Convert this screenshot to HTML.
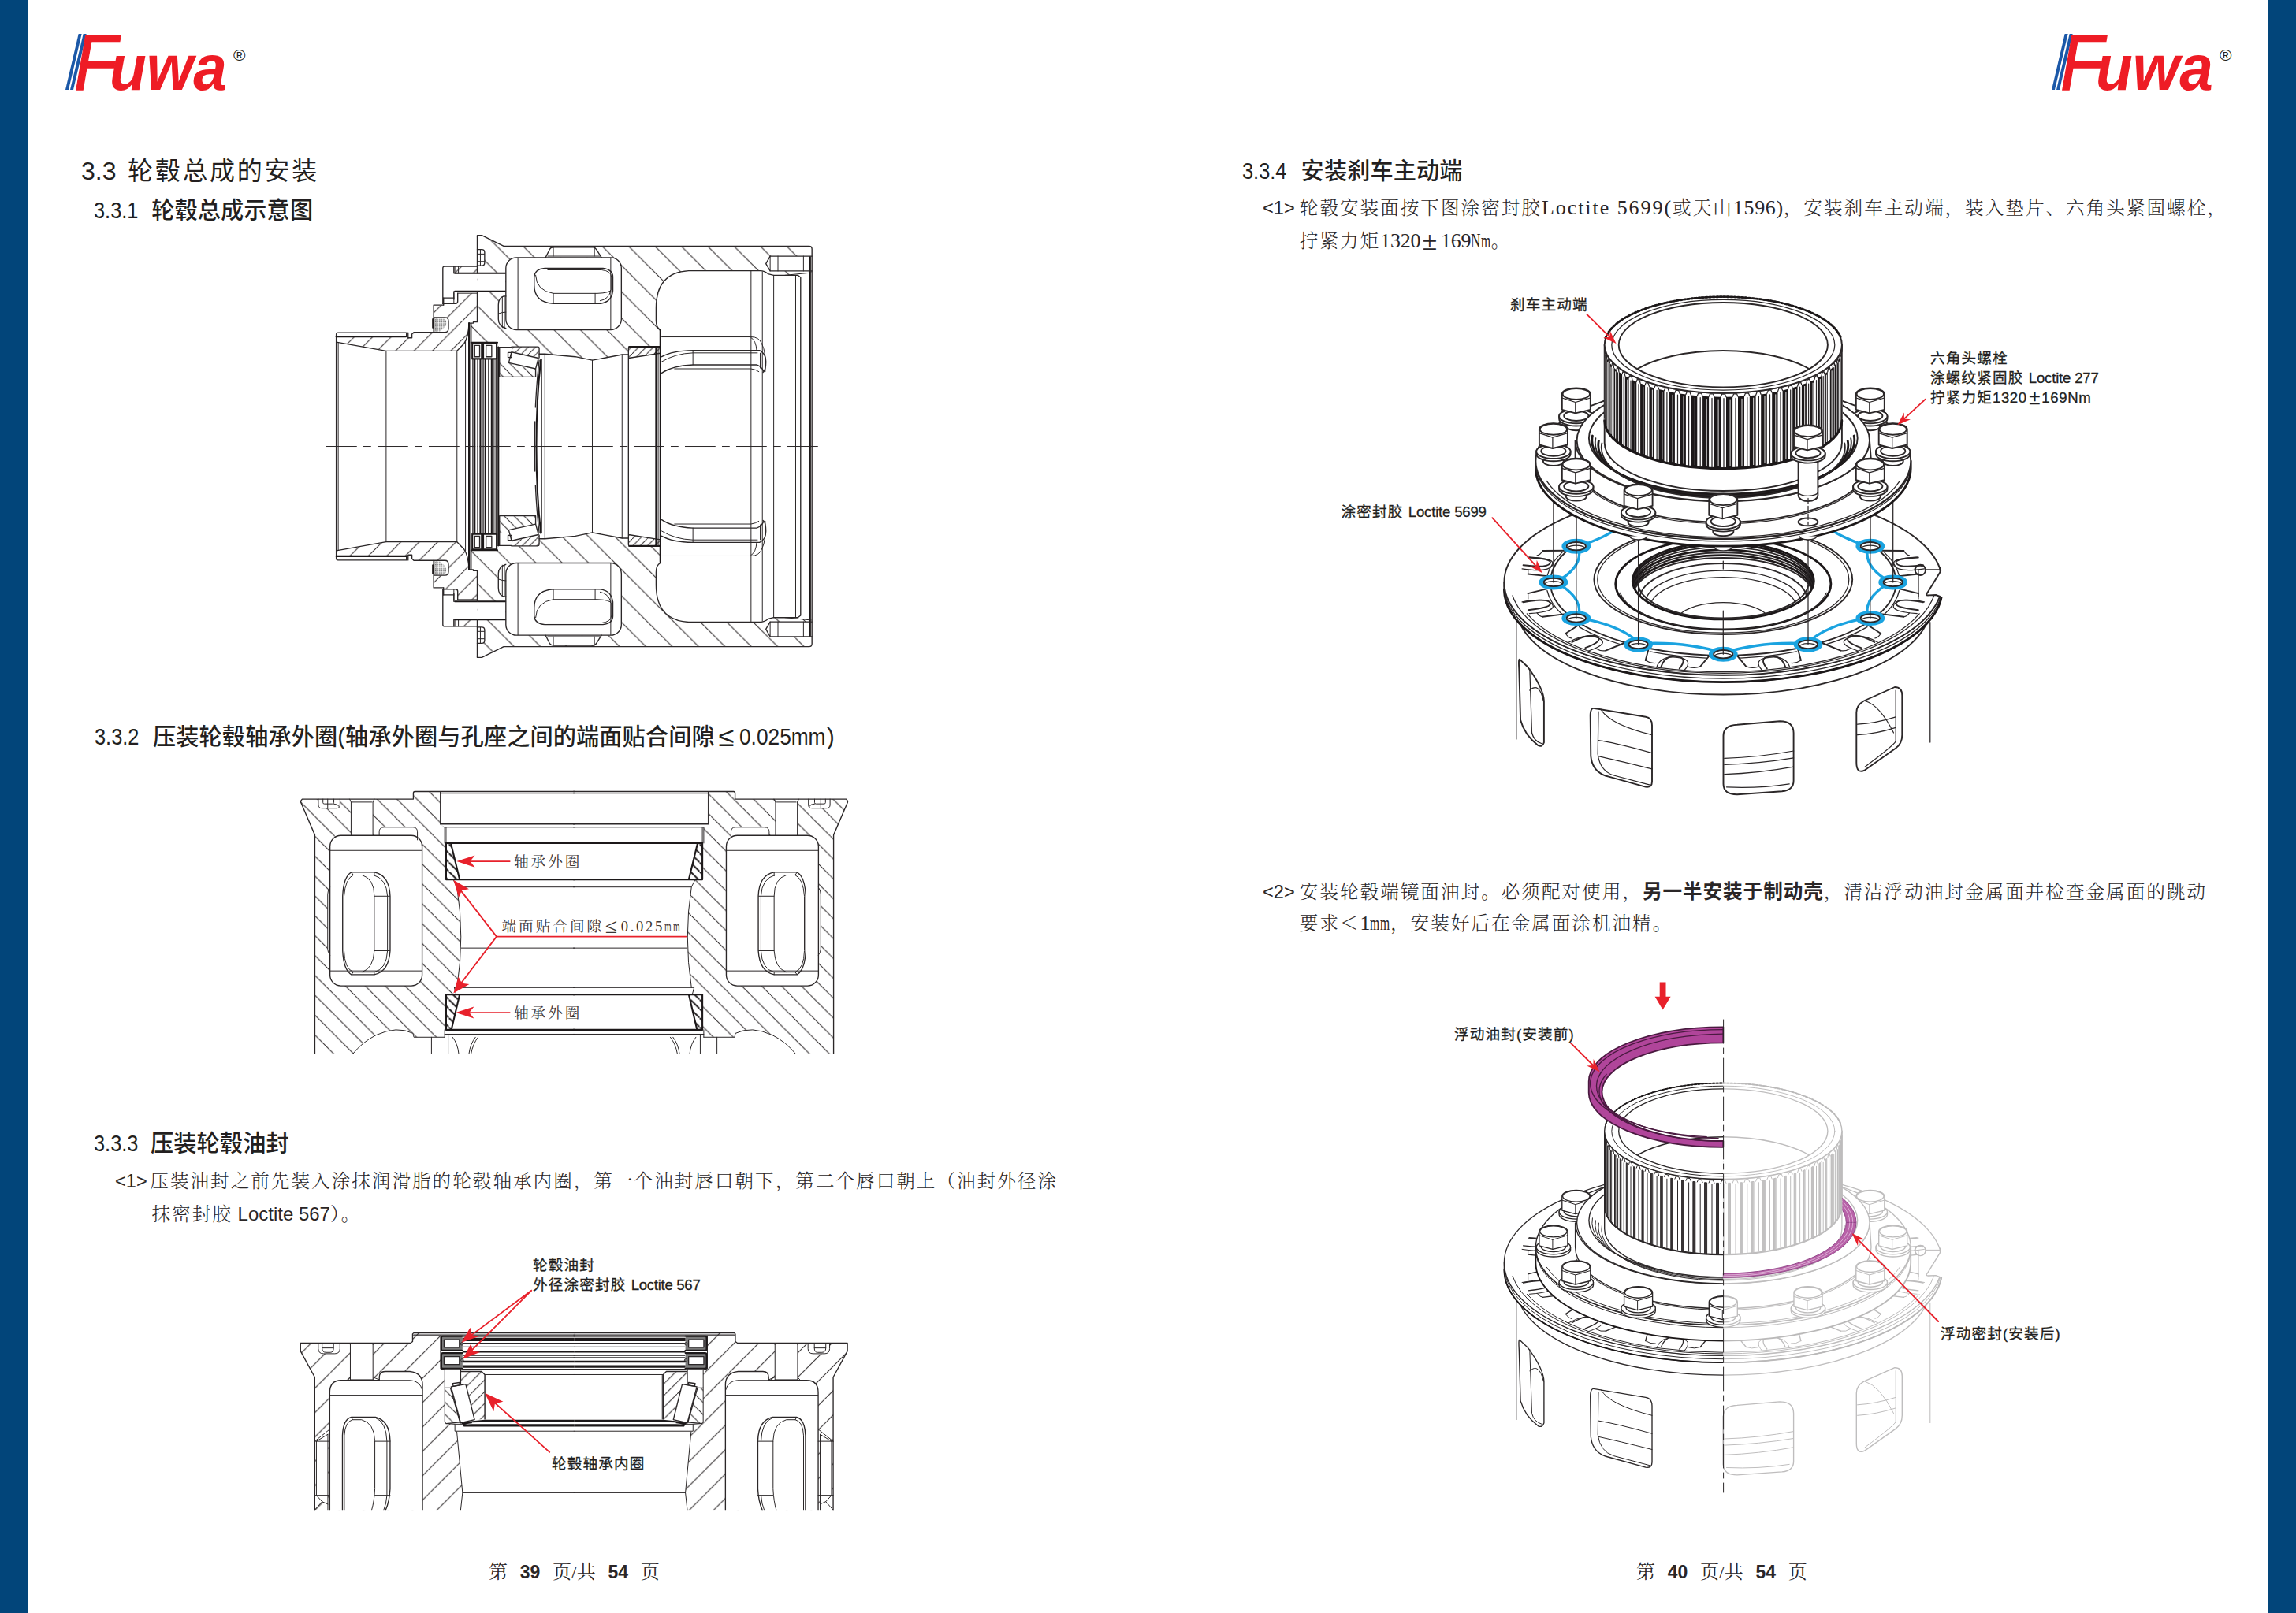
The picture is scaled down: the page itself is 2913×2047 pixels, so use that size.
<!DOCTYPE html>
<html lang="zh-CN">
<head>
<meta charset="utf-8">
<title>Fuwa 3.3 轮毂总成的安装</title>
<style>
html,body{margin:0;padding:0;}
body{width:2913px;height:2047px;position:relative;overflow:hidden;background:#fff;
  font-family:"Liberation Sans","Noto Sans CJK SC",sans-serif;color:#231f20;}
.bar{position:absolute;top:0;width:35px;height:2047px;background:#02457a;}
.t{position:absolute;white-space:nowrap;line-height:1;}
.sans{font-family:"Liberation Sans","Noto Sans CJK SC",sans-serif;}
.serif{font-family:"Liberation Serif","Noto Serif CJK SC",serif;}
.h1,.h2{margin-top:3px;}.body{margin-top:2.2px;}.foot,.lb,.dl{margin-top:2px;}
.fw{display:inline-block;width:1em;text-align:center;letter-spacing:0;}
.h1{font-size:32px;letter-spacing:2.7px;font-weight:400;}
.h2{font-size:29.2px;font-weight:500;letter-spacing:0.1px;}
.n{display:inline-block;letter-spacing:0;transform:scaleX(.87);transform-origin:0 50%;}
.lat{font-family:"Liberation Serif",serif;font-size:26px;font-weight:400;line-height:0;}
.sq{display:inline-block;width:12.8px;letter-spacing:0;transform:scaleX(.6);transform-origin:0 50%;}
.sq2{display:inline-block;width:11.2px;letter-spacing:0;transform:scaleX(.6);transform-origin:0 50%;}
.foot{word-spacing:9.7px;}
.bd{font-weight:700;font-size:24.6px;letter-spacing:.95px;}
.body{font-size:23.6px;letter-spacing:2.0px;font-weight:300;color:#2a2627;}
.num{font-family:"Liberation Sans","Noto Sans CJK SC",sans-serif;font-weight:400;letter-spacing:0;}
.lbl{font-family:"Liberation Sans","Noto Sans CJK SC",sans-serif;font-size:18.5px;font-weight:500;fill:#231f20;}
.logo{position:absolute;width:240px;height:80px;}
.logo span{position:absolute;font-family:"Liberation Sans",sans-serif;line-height:1;white-space:nowrap;}
.logo .f{left:10.5px;top:-12.5px;font-weight:400;-webkit-text-stroke:1.3px #ee1c25;font-style:italic;font-size:99.5px;color:#ee1c25;transform:scaleX(0.905);transform-origin:0 0;}
.logo .uwa{left:55.5px;top:4.1px;font-weight:700;font-style:italic;font-size:81px;color:#ee1c25;transform:scaleX(0.945);transform-origin:0 0;}
.logo .reg{left:213px;top:16.5px;font-size:21px;color:#231f20;}
.logo i{position:absolute;top:1px;height:71px;width:3.8px;background:#1b58a8;transform:skewX(-13.2deg);transform-origin:0 100%;}
svg{position:absolute;overflow:visible;}
svg .k,svg .m,svg .b,svg .r{fill:none;vector-effect:non-scaling-stroke;stroke-linejoin:round;stroke-linecap:round;}
svg .k{stroke:#2b2728;stroke-width:1;}
svg .m{stroke:#2b2728;stroke-width:1.35;}
svg .b{stroke:#1c1819;stroke-width:2.1;}
svg .r{stroke:#e8212b;stroke-width:1.8;}
svg .w{fill:#fff;}
svg text{font-family:"Liberation Sans","Noto Sans CJK SC",sans-serif;}
.dl{font-size:18.6px;letter-spacing:3px;font-weight:400;color:#3a3637;}
.lb{font-size:18.6px;letter-spacing:1.15px;font-weight:400;-webkit-text-stroke:.3px #231f20;color:#231f20;}
.foot{font-size:24px;color:#2a2627;}
.foot b{font-family:"Liberation Sans","Noto Sans CJK SC",sans-serif;font-weight:700;font-size:23px;}
</style>
</head>
<body>
<div class="bar" style="left:0"></div>
<div class="bar" style="left:2878px"></div>

<!-- logos -->
<div class="logo" style="left:83px;top:42px"><i style="left:0.3px"></i><i style="left:6.2px"></i><span class="f">F</span><span class="uwa">uwa</span><span class="reg">®</span></div>
<div class="logo" style="left:2603px;top:42px"><i style="left:0.3px"></i><i style="left:6.2px"></i><span class="f">F</span><span class="uwa">uwa</span><span class="reg">®</span></div>

<!-- left page text -->
<div class="t sans h1" style="left:103px;top:198.3px"><span class="n" style="width:59px;transform:scaleX(1)">3.3</span>轮毂总成的安装</div>
<div class="t sans h2" style="left:119px;top:250.4px"><span class="n" style="width:73.2px">3.3.1</span>轮毂总成示意图</div>
<div class="t sans h2" style="left:120px;top:918px"><span class="n" style="width:74px">3.3.2</span>压装轮毂轴承外圈(轴承外圈与孔座之间的端面贴合间隙<span class="fw" style="transform:scale(1.25,1.2)">≤</span><span class="n" style="width:111px;margin-left:2px;transform:scaleX(.9)">0.025mm</span>)</div>
<div class="t sans h2" style="left:118.5px;top:1434px"><span class="n" style="width:72.5px">3.3.3</span>压装轮毂油封</div>
<div class="t serif body" style="left:146px;top:1486px"><span class="n num" style="width:44.3px;transform:none">&lt;1&gt;</span>压装油封之前先装入涂抹润滑脂的轮毂轴承内圈，第一个油封唇口朝下，第二个唇口朝上（油封外径涂</div>
<div class="t serif body" style="left:192.5px;top:1527px">抹密封胶<span class="num" style="font-size:24px"> Loctite 567</span>）。</div>
<div class="t serif foot" style="left:620px;top:1980.5px">第 <b>39</b> 页/共 <b>54</b> 页</div>

<!-- right page text -->
<div class="t sans h2" style="left:1576px;top:200px"><span class="n" style="width:74.6px">3.3.4</span>安装刹车主动端</div>
<div class="t serif body" style="left:1602px;top:251px"><span class="n num" style="width:46.8px;transform:none">&lt;1&gt;</span>轮毂安装面按下图涂密封胶<span class="lat" style="letter-spacing:1.95px">Loctite 5699(</span>或天山<span class="lat" style="letter-spacing:.65px">1596)</span>，安装刹车主动端，装入垫片、六角头紧固螺栓，</div>
<div class="t serif body" style="left:1648.8px;top:293px">拧紧力矩<span class="lat" style="letter-spacing:-.22px">1320</span><span class="fw" style="margin-right:2px;transform:scale(1.45)">±</span><span class="lat" style="letter-spacing:-.22px">169</span><span class="lat sq" style="transform:scaleX(.66)">N</span><span class="lat sq">m</span>。</div>
<div class="t serif body" style="left:1602px;top:1117.5px"><span class="n num" style="width:46.8px;transform:none">&lt;2&gt;</span>安装轮毂端镜面油封。必须配对使用，<b class="sans bd">另一半安装于制动壳</b>，清洁浮动油封金属面并检查金属面的跳动</div>
<div class="t serif body" style="left:1648.8px;top:1159px">要求＜<span class="lat" style="letter-spacing:-.22px">1</span><span class="lat sq">m</span><span class="lat sq">m</span>，安装好后在金属面涂机油精。</div>
<div class="t serif foot" style="left:2076px;top:1980.5px">第 <b>40</b> 页/共 <b>54</b> 页</div>

<svg style="left:0;top:0" width="2913" height="2047" viewBox="0 0 2913 2047">
<defs>
<pattern id="hA" patternUnits="userSpaceOnUse" width="130" height="130"><path d="M-10,140L140,-10" stroke="#2b2728" stroke-width="5.8" fill="none"/></pattern>
<pattern id="hAm" patternUnits="userSpaceOnUse" width="130" height="130"><path d="M-10,-10L140,140" stroke="#2b2728" stroke-width="5.8" fill="none"/></pattern>
<pattern id="hB" patternUnits="userSpaceOnUse" width="186" height="186" patternTransform="translate(40,0)"><path d="M-10,-10L196,196" stroke="#2b2728" stroke-width="5.8" fill="none"/></pattern>
<pattern id="hBm" patternUnits="userSpaceOnUse" width="186" height="186" patternTransform="translate(40,0)"><path d="M-10,196L196,-10" stroke="#2b2728" stroke-width="5.8" fill="none"/></pattern>
<pattern id="hC" patternUnits="userSpaceOnUse" width="52" height="52"><path d="M-5,57L57,-5" stroke="#2b2728" stroke-width="5.8" fill="none"/></pattern>
<pattern id="hCm" patternUnits="userSpaceOnUse" width="52" height="52"><path d="M-5,-5L57,57" stroke="#2b2728" stroke-width="5.8" fill="none"/></pattern>
<pattern id="hD" patternUnits="userSpaceOnUse" width="70" height="70"><path d="M-5,-5L75,75" stroke="#2b2728" stroke-width="5.8" fill="none"/></pattern>
<pattern id="hDm" patternUnits="userSpaceOnUse" width="70" height="70"><path d="M-5,75L75,-5" stroke="#2b2728" stroke-width="5.8" fill="none"/></pattern>
<pattern id="dots" patternUnits="userSpaceOnUse" width="9" height="9"><circle cx="3" cy="3" r="2.6" fill="#444"/></pattern>
<!-- hatch regions -->
<path id="rS" d="M148,764H640L655,772H682L695,735H835V542H905V532H990Q1005,532 1005,517V457H1143V660H1115V668H1087Q1083,720 1066,775Q1055,808 1000,864H500L148,802ZM985,268H1143V316H985Z"/>
<path id="rH" d="M1143,48H1175L1330,125H3485Q3505,125 3505,145V195H3210L3180,248L3210,300H3505V312L3315,330H3235L3195,320Q3170,298 3140,298H2635Q2405,310 2405,560V650Q2405,700 2435,715V835H2215Q2208,836 2208,845V890H2165L1955,930L1835,905L1620,886H1580V845Q1580,835 1570,835H1290L1285,805H1100V668H1115V660H1143Z"/>
<path id="rCup1" d="M1385,835H1570Q1580,835 1580,845V912L1385,868Z"/>
<path id="rCone1" d="M1300,925L1365,948L1555,992V1048H1300Z"/>
<path id="rCup2" d="M2215,835H2435V880L2210,915V845Q2210,835 2215,835Z"/>
<!-- outlines of top half -->
<g id="d1o">
 <!-- white cut-outs over hatch -->
 <path class="w" d="M1143,316H1341V444H1143Z"/>
 <path class="w" d="M1143,148H1175Q1195,148 1195,168V242Q1195,262 1175,262H1143Z"/>
 <rect class="w" x="1345" y="205" width="815" height="510" rx="75" ry="75"/>
 <path class="w" d="M1625,205L1655,145Q1662,133 1680,133H1960Q1975,133 1985,150L2020,205Z"/>
 <path class="w" d="M1345,478H1330Q1292,490 1292,540V640Q1292,690 1345,705Z"/>
 <path class="w" d="M838,628H915Q940,628 940,655V705Q940,733 915,733H838Z"/>
 <!-- spindle -->
 <path class="m" d="M148,1538V748Q148,735 160,735H640"/>
 <path class="b" d="M148,763H640Q646,763 646,755V737"/>
 <path class="m" d="M655,735V772H682V745L695,733H832"/>
 <path class="m" d="M148,802L500,864H1000L1050,812Q1080,770 1085,668"/>
 <path class="k" d="M162,806V1538M500,864V1538M1000,864V1538M1060,800V1538"/>
 <path class="m" d="M835,733V540H905"/>
 <!-- seal on spindle -->
 <path class="m" d="M838,628H915Q940,628 940,655V705Q940,733 915,733H838Z"/>
 <path d="M845,632H905Q925,640 925,670Q920,700 900,705L880,728H845Z" fill="url(#dots)"/>
 <path class="b" d="M830,640V700"/>
 <path class="k" d="M858,630V730M915,640V725"/>
 <!-- bolt head + flange -->
 <path class="m" d="M905,540V490M900,530V280Q900,268 912,268H1143"/>
 <path class="m" d="M905,490H978M900,530H990Q1005,530 1005,515V457"/>
 <path class="k" d="M978,455V530M985,268V316M1010,268V316M1005,457H1143"/>
 <path class="b" d="M985,316H1341M985,444H1341"/>
 <path class="m" d="M978,316V268M978,444V500"/>
 <path class="m" d="M1143,48V316M1143,444V660H1115V668H1087"/>
 <!-- dowel hole -->
 <path class="m" d="M1143,148H1175Q1195,148 1195,168V242Q1195,262 1175,262H1143"/>
 <path class="k" d="M1165,150V260M1143,180H1193M1143,232H1193"/>
 <!-- hub outer -->
 <path class="m" d="M1143,55Q1143,48 1150,48H1175L1330,125H3485Q3505,125 3505,145V1538"/>
 <path class="b" d="M3492,200V1538"/>
 <!-- pocket -->
 <rect class="m" x="1345" y="205" width="815" height="510" rx="75" ry="75"/>
 <path class="k" d="M1430,207V713M2085,207V713"/>
 <path class="m" d="M1625,205L1655,145Q1662,133 1680,133H1960Q1975,133 1985,150L2020,205"/>
 <path class="k" d="M1640,195H2010M1680,135V195M1970,135V195"/>
 <path class="m" d="M1620,280H2030Q2100,290 2100,340V440Q2090,520 2010,530H1680Q1545,520 1545,400V340Q1550,285 1620,280Z"/>
 <path class="k" d="M1640,292H2020Q2090,300 2090,345V430Q2080,455 1990,458H1680Q1560,440 1555,330M1680,458V530M1975,458V530M2010,510Q2070,500 2085,440"/>
 <!-- small cavity left of pocket -->
 <path class="m" d="M1345,478H1330Q1292,490 1292,540V640Q1292,690 1345,705"/>
 <path class="k" d="M1320,485V700M1335,480V705M1295,600Q1320,590 1345,590"/>
 <!-- threaded hole right -->
 <path class="m" d="M3505,195H3210L3180,248L3210,300H3505"/>
 <path class="k" d="M3210,195V300M3265,195V300M3445,195V300"/>
 <!-- main cavity -->
 <path class="m" d="M2435,835V715Q2405,700 2405,650V560Q2405,310 2635,298H3140Q3170,298 3195,320L3235,330H3405L3425,345V1538"/>
 <path class="k" d="M3315,330L3500,312M3075,298V1538M3155,305V1538M3235,330V1538M3390,335V1538"/>
 <path class="k" d="M2445,765H3075Q3130,765 3150,810Q3185,880 3175,1010"/>
 <path class="m" d="M2445,905Q2520,862 2665,860H3135Q3180,880 3180,940Q3180,1000 3160,1015"/>
 <path class="k" d="M2445,940Q2540,882 2665,878H3120M2665,860V962M3140,880V985M3075,770Q3110,790 3115,860"/>
 <path class="m" d="M2445,1020Q2520,968 2665,962H3115Q3150,975 3165,1010"/>
 <path class="k" d="M2535,990H3075Q3110,995 3130,1010"/>
 <!-- hub bore / bearing 2 -->
 <path class="b" d="M2215,835H2435"/>
 <path class="m" d="M2210,1538V845Q2210,835 2215,835M2210,915L2435,880"/>
 <path class="b" d="M2405,835V1538M2435,720V1538"/>
 <path class="k" d="M2420,835V1538M2165,890V1538M1955,930V1538"/>
 <path class="m" d="M1580,886H1620L1835,905L1955,930L2165,890H2208"/>
 <!-- bearing 1 -->
 <path class="m" d="M1290,838H1385M1385,835H1570Q1580,835 1580,845V912"/>
 <path class="m" d="M1385,872L1575,915L1555,990L1365,948Z" fill="#fff"/>
 <path class="m" d="M1360,875H1385V910H1360Z" fill="#fff"/>
 <path class="m" d="M1300,838V1048H1555V992"/>
 <path class="k" d="M1310,1048V1538M1620,886V1538"/>
 <path class="b" d="M1592,925Q1560,1200 1560,1538"/>
 <path class="m" d="M1580,930Q1548,1200 1548,1538" stroke-dasharray="60 18"/>
 <path class="k" d="M1598,925V1538"/>
 <!-- seal stack -->
 <path class="b" d="M1085,668V1538M1100,805H1285"/>
 <path class="m" d="M1097,670V1538M1100,668V805"/>
 <path class="b" d="M1108,810H1175V920H1108ZM1185,810H1280V920H1185Z"/>
 <path class="m" d="M1125,825H1160V905H1125ZM1205,825H1245V905H1205Z"/>
 <path class="b" d="M1125,925V1538M1165,925V1538M1200,925V1538M1245,925V1538M1292,838V1538"/>
 <path class="m" d="M1112,920V1538M1185,925V1538M1275,925V1538"/>
 <path class="k" d="M1145,925V1538M1222,925V1538M1262,925V1538"/>
</g>
</defs>
<g transform="translate(400,290) scale(.17979)">
 <g fill="url(#hA)" stroke="none"><use href="#rS"/></g>
 <g fill="url(#hB)" stroke="none"><use href="#rH"/></g>
 <g fill="url(#hC)" stroke="none"><use href="#rCup1"/><use href="#rCup2"/></g>
 <g fill="url(#hD)" stroke="none"><use href="#rCone1"/></g>
 <use href="#d1o"/>
 <g transform="translate(0,3076) scale(1,-1)">
  <g fill="url(#hAm)" stroke="none"><use href="#rS"/></g>
  <g fill="url(#hBm)" stroke="none"><use href="#rH"/></g>
  <g fill="url(#hCm)" stroke="none"><use href="#rCup1"/><use href="#rCup2"/></g>
  <g fill="url(#hDm)" stroke="none"><use href="#rCone1"/></g>
  <use href="#d1o"/>
 </g>
 <path class="k" d="M80,1538H3580" stroke-dasharray="38 9 9 9"/>
</g>
</svg>

<svg style="left:0;top:0" width="2913" height="2047" viewBox="0 0 2913 2047">
<defs>
<pattern id="h2" patternUnits="userSpaceOnUse" width="113" height="113" patternTransform="translate(19,-20)"><path d="M-10,-10L123,123" stroke="#2b2728" stroke-width="4.6" fill="none"/></pattern>
<pattern id="h2m" patternUnits="userSpaceOnUse" width="113" height="113" patternTransform="translate(37,-20)"><path d="M-10,123L123,-10" stroke="#2b2728" stroke-width="4.6" fill="none"/></pattern>
<pattern id="h2c" patternUnits="userSpaceOnUse" width="52" height="52" patternTransform="translate(10,0)"><path d="M-10,-10L62,62" stroke="#1c1819" stroke-width="8.5" fill="none"/></pattern>
<pattern id="h2cm" patternUnits="userSpaceOnUse" width="52" height="52" patternTransform="translate(10,0)"><path d="M-10,62L62,-10" stroke="#1c1819" stroke-width="8.5" fill="none"/></pattern>
<clipPath id="c2"><rect x="0" y="0" width="3300" height="1556"/></clipPath>
<path id="r2H" d="M700,65H845V250L870,268V358H878V565L920,568L940,608Q985,890 940,1180H925L935,1218L878,1220V1420L870,1445V1462H695L690,1440Q600,1395 480,1450Q400,1490 345,1560H132V312L52,125V118L60,108H692V75Q692,65 700,65Z"/>
<path id="r2C" d="M878,358H905L955,565H878ZM878,1220H955L908,1420H878Z"/>
<g id="d2o">
 <!-- white cut-outs -->
 <path class="w" d="M338,108H462V330H338Z"/>
 <path class="w" d="M498,320V295Q498,268 525,268H690Q715,268 715,295V320Z"/>
 <rect class="w" x="218" y="315" width="524" height="855" rx="62" ry="62"/>
 <path class="w" d="M152,108V140Q152,160 172,160H255Q275,160 275,140V108Z"/>
 <path class="w" d="M218,610Q205,625 205,650V960Q205,980 218,995Z"/>
 <!-- hub outline -->
 <path class="m" d="M1611,65H700Q692,65 692,75V108H60L52,118V125L132,312V1556"/>
 <path class="k" d="M845,75H1611M845,65V250M870,268V358M870,1420V1462"/>
 <path class="m" d="M845,250H1611"/>
 <path class="k" d="M870,268H1611M878,270V355"/>
 <!-- drilled hole -->
 <path class="k" d="M338,125V315M462,125V315M330,108L338,125M470,108L462,125M345,125H455"/>
 <!-- bolt hole U -->
 <path class="k" d="M152,108V140Q152,160 172,160H255Q275,160 275,140V108M178,108V128Q178,135 186,135H232Q240,135 240,128V108M205,108V160M240,135Q262,135 270,150"/>
 <!-- pocket -->
 <path class="k" d="M498,315V295Q498,268 525,268H690Q715,268 715,295V340"/>
 <rect class="m" x="218" y="315" width="524" height="855" rx="62" ry="62"/>
 <path class="k" d="M220,400H740M220,1085H740M218,610Q205,625 205,650V960Q205,980 218,995"/>
 <!-- slot -->
 <path class="m" d="M340,524H470Q555,540 560,660V970Q552,1090 470,1106H340Q295,1080 290,970V660Q295,548 340,524Z"/>
 <path class="k" d="M350,540H400Q470,560 470,660V970Q465,1070 400,1092H350Q300,1070 298,970V660Q305,560 350,540M400,540H465Q540,560 545,660V970Q540,1075 470,1092H400M470,660H558M470,970H558M470,524V545M470,1092V1106M340,524L350,540M340,1106L350,1092"/>
 <!-- cups -->
 <path class="b" d="M1611,358H878V565H1611M905,358L955,565"/>
 <path class="b" d="M1611,1220H878V1420H1611M955,1220L908,1420"/>
 <!-- bore -->
 <path class="k" d="M920,568L940,608H1611M940,608Q985,890 940,1180M965,955H1611M925,1180H1611M925,1180L935,1218"/>
 <path class="k" d="M870,1445H1611M870,1462H695L690,1440Q600,1395 480,1450Q400,1490 345,1560M795,1462V1556M890,1447V1556"/>
 <path class="k" d="M915,1462Q945,1500 950,1556M1060,1462Q1030,1500 1020,1556M1045,1462Q1015,1500 1008,1556"/>
</g>
</defs>
<g transform="translate(370,990) scale(.22317)" clip-path="url(#c2)">
 <use href="#r2H" fill="url(#h2)"/>
 <use href="#r2C" fill="url(#h2c)"/>
 <use href="#d2o"/>
 <g transform="translate(3213,0) scale(-1,1)">
  <use href="#r2H" fill="url(#h2m)"/>
  <use href="#r2C" fill="url(#h2cm)"/>
  <use href="#d2o"/>
 </g>
 <!-- red arrows -->
 <g>
 <path class="r" d="M1240,462H990M1240,1322H985M2243,890H1165L940,600M1165,890L940,1185"/>
 </g>
 <g fill="#e8212b">
 <path d="M938,462L1042,428L1015,462L1042,496Z"/>
 <path d="M933,1322L1037,1288L1010,1322L1037,1356Z"/>
 <path d="M920,568L1008,620L968,626L950,668Z"/>
 <path d="M920,1212L948,1118L968,1155L1010,1160Z"/>
 </g>
</g>
</svg>
<div class="t serif dl" style="left:652px;top:1083px">轴承外圈</div>
<div class="t serif dl" style="left:652px;top:1275px">轴承外圈</div>
<div class="t serif dl" style="left:636.5px;top:1165px">端面贴合间隙<span class="fw" style="margin-right:3px;transform:scale(1.5,1.4)">≤</span><span style="font-family:'Liberation Serif',serif;letter-spacing:2.7px">0.025</span><span class="sq2" style="font-family:'Liberation Serif',serif">m</span><span class="sq2" style="font-family:'Liberation Serif',serif">m</span></div>

<svg style="left:0;top:0" width="2913" height="2047" viewBox="0 0 2913 2047">
<defs>
<pattern id="h3" patternUnits="userSpaceOnUse" width="192" height="192" patternTransform="translate(114,0)"><path d="M-10,202L202,-10" stroke="#2b2728" stroke-width="6.2" fill="none"/></pattern>
<pattern id="h3m" patternUnits="userSpaceOnUse" width="192" height="192" patternTransform="translate(40,0)"><path d="M-10,-10L202,202" stroke="#2b2728" stroke-width="6.2" fill="none"/></pattern>
<pattern id="h3c" patternUnits="userSpaceOnUse" width="95" height="95" patternTransform="translate(20,0)"><path d="M-10,-10L105,105" stroke="#2b2728" stroke-width="6.2" fill="none"/></pattern>
<pattern id="h3cm" patternUnits="userSpaceOnUse" width="95" height="95" patternTransform="translate(20,0)"><path d="M-10,105L105,-10" stroke="#2b2728" stroke-width="6.2" fill="none"/></pattern>
<pattern id="h3d" patternUnits="userSpaceOnUse" width="92" height="92" patternTransform="translate(30,0)"><path d="M-10,102L102,-10" stroke="#2b2728" stroke-width="6.2" fill="none"/></pattern>
<pattern id="h3dm" patternUnits="userSpaceOnUse" width="92" height="92" patternTransform="translate(30,0)"><path d="M-10,-10L102,102" stroke="#2b2728" stroke-width="6.2" fill="none"/></pattern>
<pattern id="tex" patternUnits="userSpaceOnUse" width="8" height="8"><rect width="8" height="8" fill="#8a8a8a"/><circle cx="4" cy="4" r="2" fill="#333"/></pattern>
<clipPath id="c3"><rect x="0" y="-900" width="4500" height="2366"/></clipPath>
<path id="r3H" d="M960,72H1172V355L1205,360V770L1215,785L1285,790V845L1300,850L1345,1330L1330,1466H182V420L70,215V152H935L952,140V80Z"/>
<path id="r3C" d="M1205,505H1250L1325,775L1215,785L1205,770Z"/>
<path id="r3D" d="M1330,375H1495L1520,400V750L1440,755L1370,475L1330,470Z"/>
<g id="d3o">
 <!-- white cut-outs -->
 <path class="w" d="M462,152H640V450H462Z"/>
 <path class="w" d="M210,152V195Q210,235 250,235H340Q380,235 380,195V152Z"/>
 <path class="w" d="M300,1466V540Q300,445 390,445H690V420Q690,375 735,375H930Q1030,385 1030,480V1466Z"/>
 <path class="w" d="M195,925L285,868V1420L240,1400L195,1350Z"/>
 <!-- hub outline -->
 <path class="m" d="M2222,72H960L952,80V140L935,152H70V215L182,420V1466"/>
 <path class="m" d="M960,88H2222"/>
 <path class="k" d="M1172,95V355L1205,360V770L1215,785L1285,790V845H2222M1285,790H1340M1300,850L1345,1330L1330,1466M1345,1330H2222"/>
 <!-- drilled hole -->
 <path class="k" d="M462,165V440M640,165V440M462,440H640M455,152L462,165M648,152L640,165M462,420L440,445M640,420L690,440"/>
 <!-- bolt U -->
 <path class="k" d="M210,152V195Q210,235 250,235H340Q380,235 380,195V152M240,152V190Q240,225 270,225H305Q330,225 330,190V152M240,190H330"/>
 <!-- pocket -->
 <path class="m" d="M300,1466V540Q300,445 390,445H690V420Q690,375 735,375H930Q1030,385 1030,480V1466"/>
 <path class="k" d="M690,445H935Q1010,450 1028,520M302,562H1030"/>
 <!-- wedge -->
 <path class="k" d="M182,925L300,830M195,925L285,870M195,925V1350L240,1400L285,1420M285,870V1466M182,925H300M182,1350H300M240,1400L182,1466"/>
 <!-- slot -->
 <path class="m" d="M400,1466V880Q405,750 470,735H660Q770,760 775,920V1300Q770,1400 740,1466"/>
 <path class="k" d="M415,1466V880Q420,770 480,755H550Q650,780 655,920V1300Q650,1400 630,1466M660,740Q745,770 750,925V1350Q745,1420 725,1466M655,925H775M655,1350H775M470,735L480,755"/>
 <!-- seals -->
 <rect x="1178" y="98" width="167" height="112" rx="14" fill="url(#tex)"/>
 <rect x="1178" y="230" width="167" height="122" rx="14" fill="url(#tex)"/>
 <rect class="w" x="1200" y="125" width="120" height="60"/>
 <rect class="w" x="1200" y="258" width="120" height="62"/>
 <path class="b" d="M1178,110Q1178,98 1190,98H1345M1178,110V198Q1178,210 1190,210H1345M1178,242Q1178,230 1190,230H1345M1178,242V340Q1178,352 1190,352H1345"/>
 <path class="m" d="M1200,125H1320V185H1200ZM1200,258H1320V320H1200Z"/>
 <circle cx="1340" cy="157" r="11" fill="#777" stroke="#1c1819" stroke-width="4"/>
 <circle cx="1342" cy="287" r="11" fill="#777" stroke="#1c1819" stroke-width="4"/>
 <path d="M1345,110H2222V136H1345ZM1345,212H2222V226H1345ZM1345,290H2222V306H1345ZM1345,326H2222V346H1345Z" fill="#1c1819"/>
 <path class="k" d="M1350,100H2222M1350,152H2222M1350,250H2222"/>
 <path class="m" d="M1350,182H2222M1350,266H2222M1345,358H2222"/>
 <!-- bearing -->
 <path class="m" d="M1205,505H1250L1325,775M1215,785L1325,775"/>
 <path class="m" d="M1255,495L1370,475L1440,755L1330,780Z" fill="#fff"/>
 <path class="m" d="M1268,470L1320,462L1325,482L1272,492Z" fill="#fff"/>
 <path class="m" d="M1330,355V470M1330,375H1495L1520,400V750"/>
 <path class="k" d="M1520,400H2222M1527,400V750"/>
 <path d="M1335,780Q1420,762 1520,755H2222V774H1520Q1420,780 1345,796ZM1345,792L1420,790H2222V810H1355Z" fill="#1c1819"/>
 <path d="M1420,782Q1500,778 1560,778H2222" stroke="#fff" stroke-width="9" fill="none" stroke-dasharray="130 45"/>
</g>
</defs>
<g transform="translate(370,1680) scale(.16121)" clip-path="url(#c3)">
 <use href="#r3H" fill="url(#h3)"/>
 <use href="#r3C" fill="url(#h3c)"/>
 <use href="#r3D" fill="url(#h3d)"/>
 <use href="#d3o"/>
 <g transform="translate(4444,0) scale(-1,1)">
  <use href="#r3H" fill="url(#h3m)"/>
  <use href="#r3C" fill="url(#h3cm)"/>
  <use href="#r3D" fill="url(#h3dm)"/>
  <use href="#d3o"/>
 </g>
 <!-- red arrows -->
 <path class="r" d="M1887,-262L1400,100M1887,-262L1400,225M2030,1010L1580,605"/>
 <g fill="#e8212b">
 <path d="M1337,147L1405,30L1420,88L1478,98Z"/>
 <path d="M1347,277L1410,158L1428,215L1485,222Z"/>
 <path d="M1520,545L1665,612L1600,628L1590,690Z"/>
 </g>
</g>
</svg>
<div class="t sans lb" style="left:676px;top:1594.5px">轮毂油封</div>
<div class="t sans lb" style="left:676px;top:1620px">外径涂密封胶 <span style="letter-spacing:-.3px">Loctite 567</span></div>
<div class="t sans lb" style="left:700px;top:1847px">轮毂轴承内圈</div>

<svg id="d4" style="left:0;top:0" width="2913" height="2047" viewBox="0 0 2913 2047">
<style>.wf{fill:#fff !important}.bl{fill:none;stroke:#1aa3e0;stroke-width:3.3;stroke-linecap:round}#d4 .m{stroke-width:1.9}#d4 .k{stroke-width:1.25}#d4 .b{stroke-width:2.8}</style>
<path class="k" d="M1923.8,783.7V938 M2448.8,789.7V942"/>
<path class="m" d="M2448.6,774.6A262.5,111.3 0 0 1 1924,774.6"/>
<path class="m wf" d="M2464.2,747.9A277.9,117.8 0 0 1 1908.4,747.9V738.9A277.9,117.8 0 0 0 2464.2,738.9Z"/>
<path class="b" d="M2464.2,747.9A277.9,117.8 0 0 1 1908.4,747.9"/>
<path class="k" d="M2464.2,743.4A277.9,117.8 0 0 1 1908.4,743.4"/>
<path class="m wf" d="M2464.2,738.9A277.9,117.8 0 1 1 1908.4,738.9A277.9,117.8 0 1 1 2464.2,738.9Z"/>
<path class="k" d="M2453.6,755.8A269.9,114.4 0 0 1 1919,755.8"/>
<path class="k" d="M2435.2,778.8A264.9,112.3 0 0 1 1937.4,778.8"/>
<g transform="translate(0,0)">
<path class="wf" stroke="none" d="M2461.5,724.5H2472V758.5L2457,756L2443,756L2441.5,752Z"/>
<path class="m" d="M2461.5,720.5V726L2445.5,752Q2442,755.8 2447,755.4L2456,755L2461.3,757"/>
<path class="k" d="M2443,722.8H2461"/>
<circle class="m wf" cx="2436.4" cy="723.4" r="6.6"/>
<path class="k" d="M2431,727a5.5,5 0 0 1 8,-8M2434,730V757"/>
</g>
<path class="m" d="M1967.6,731.6A219.4,93 0 0 1 1988.3,698.8"/>
<path class="k" d="M1962.9,731.2A224.4,95.1 0 0 1 1982.1,700.9"/>
<path class="m" d="M1932.6,717.3Q1962.8,721 1966.6,714.9Q1970.5,708.8 1938.8,707.5"/>
<path class="k" d="M1931.1,721.8Q1963.7,726.9 1969.5,717.7Q1975.4,708.5 1940.4,707"/>
<path class="m" d="M1967.6,731.6L1938.6,728.5"/>
<path class="k" d="M1938.6,728.5Q1938.7,728.2 1938.7,722.8"/>
<path class="m" d="M1988.3,698.8L1957.2,699"/>
<path class="k" d="M1957.2,699Q1953.7,704.5 1950.1,704.9"/>
<path class="m" d="M1988.3,778.9A219.4,93 0 0 1 1967.6,746.1"/>
<path class="k" d="M1982.1,779.8A224.4,95.1 0 0 1 1962.9,749.5"/>
<path class="m" d="M1938.8,774.2Q1970.5,770.9 1966.6,764.8Q1962.8,758.7 1932.6,764.4"/>
<path class="k" d="M1940.4,778.7Q1975.4,776.2 1969.5,767Q1963.7,757.8 1931.1,763.9"/>
<path class="m" d="M1988.3,778.9L1957.2,782.7"/>
<path class="k" d="M1957.2,782.7Q1953.7,782.7 1950.1,777.8"/>
<path class="m" d="M1967.6,746.1L1938.6,753.2"/>
<path class="k" d="M1938.6,753.2Q1938.7,759 1938.7,759.9"/>
<path class="m" d="M2062,815.5A219.4,93 0 0 1 2005.5,791.5"/>
<path class="k" d="M2056,817.8A224.4,95.1 0 0 1 2003.6,795.6"/>
<path class="m" d="M2011.4,822.2Q2036.1,812.5 2025.5,808Q2014.9,803.5 1994.4,815"/>
<path class="k" d="M2015.6,826Q2043.5,816.4 2027.6,809.6Q2011.7,802.9 1990.1,815.2"/>
<path class="m" d="M2062,815.5L2037.3,825.6"/>
<path class="k" d="M2037.3,825.6Q2031,826.8 2024.7,823"/>
<path class="m" d="M2005.5,791.5L1986.3,804"/>
<path class="k" d="M1986.3,804Q1990,809.5 1993.7,809.9"/>
<path class="m" d="M2169.1,831.6A219.4,93 0 0 1 2091.8,822.8"/>
<path class="k" d="M2164.8,835.1A224.4,95.1 0 0 1 2093.2,826.9"/>
<path class="m" d="M2130.8,848.4Q2141.9,834.6 2127.4,833Q2113,831.3 2107.6,845.8"/>
<path class="k" d="M2136.5,851.1Q2150,836.7 2128.2,834.3Q2106.5,831.8 2101.8,847.1"/>
<path class="m" d="M2169.1,831.6L2157.2,845.9"/>
<path class="k" d="M2157.2,845.9Q2149.9,848.6 2142.6,846.3"/>
<path class="m" d="M2091.8,822.8L2087.7,838"/>
<path class="k" d="M2087.7,838Q2094,842.2 2100.3,841.5"/>
<path class="m" d="M2280.8,822.8A219.4,93 0 0 1 2203.5,831.6"/>
<path class="k" d="M2279.4,826.9A224.4,95.1 0 0 1 2207.8,835.1"/>
<path class="m" d="M2265,845.8Q2259.6,831.3 2245.2,833Q2230.7,834.6 2241.8,848.4"/>
<path class="k" d="M2270.8,847.1Q2266.1,831.8 2244.4,834.3Q2222.6,836.7 2236.1,851.1"/>
<path class="m" d="M2280.8,822.8L2284.9,838"/>
<path class="k" d="M2284.9,838Q2278.6,842.2 2272.3,841.5"/>
<path class="m" d="M2203.5,831.6L2215.4,845.9"/>
<path class="k" d="M2215.4,845.9Q2222.7,848.6 2230,846.3"/>
<path class="m" d="M2367.1,791.5A219.4,93 0 0 1 2310.6,815.5"/>
<path class="k" d="M2369,795.6A224.4,95.1 0 0 1 2316.6,817.8"/>
<path class="m" d="M2378.2,815Q2357.7,803.5 2347.1,808Q2336.5,812.5 2361.2,822.2"/>
<path class="k" d="M2382.5,815.2Q2360.9,802.9 2345,809.6Q2329.1,816.4 2357,826"/>
<path class="m" d="M2367.1,791.5L2386.3,804"/>
<path class="k" d="M2386.3,804Q2382.6,809.5 2378.9,809.9"/>
<path class="m" d="M2310.6,815.5L2335.3,825.6"/>
<path class="k" d="M2335.3,825.6Q2341.6,826.8 2347.9,823"/>
<path class="m" d="M2405,746.1A219.4,93 0 0 1 2384.3,778.9"/>
<path class="k" d="M2409.7,749.5A224.4,95.1 0 0 1 2390.5,779.8"/>
<path class="m" d="M2440,764.4Q2409.8,758.7 2406,764.8Q2402.1,770.9 2433.8,774.2"/>
<path class="k" d="M2441.5,763.9Q2408.9,757.8 2403.1,767Q2397.2,776.2 2432.2,778.7"/>
<path class="m" d="M2405,746.1L2434,753.2"/>
<path class="k" d="M2434,753.2Q2433.9,759 2433.9,759.9"/>
<path class="m" d="M2384.3,778.9L2415.4,782.7"/>
<path class="k" d="M2415.4,782.7Q2418.9,782.7 2422.5,777.8"/>
<path class="m" d="M2384.3,698.8A219.4,93 0 0 1 2405,731.6"/>
<path class="k" d="M2390.5,700.9A224.4,95.1 0 0 1 2409.7,731.2"/>
<path class="m" d="M2433.8,707.5Q2402.1,708.8 2406,714.9Q2409.8,721 2440,717.3"/>
<path class="k" d="M2432.2,707Q2397.2,708.5 2403.1,717.7Q2408.9,726.9 2441.5,721.8"/>
<path class="m" d="M2384.3,698.8L2415.4,699"/>
<path class="k" d="M2415.4,699Q2418.9,704.5 2422.5,704.9"/>
<path class="m" d="M2405,731.6L2434,728.5"/>
<path class="k" d="M2434,728.5Q2433.9,728.2 2433.9,722.8"/>
<path class="m wf" d="M2350.2,735.5A163.9,69.5 0 1 1 2022.4,735.5A163.9,69.5 0 1 1 2350.2,735.5Z"/>
<path class="k" d="M2345.8,735.5A159.5,67.6 0 1 1 2026.8,735.5A159.5,67.6 0 1 1 2345.8,735.5Z"/>
<path class="b" d="M2322.9,741A136.6,57.9 0 1 1 2049.7,741A136.6,57.9 0 1 1 2322.9,741Z"/>
<path class="k" d="M2317.3,752.3A133,56.4 0 0 1 2055.3,752.3"/>
<clipPath id="cb4"><path d="M2301.3,737.1A115,48.8 0 1 1 2071.3,737.1A115,48.8 0 1 1 2301.3,737.1Z"/></clipPath>
<g clip-path="url(#cb4)">
<path class="b" d="M2072.4,737.3A114,48.3 0 0 1 2300.2,737.3"/>
<path class="m" d="M2072.4,740.7A114,48.3 0 0 1 2300.2,740.7"/>
<path class="b" d="M2072.4,744.1A114,48.3 0 0 1 2300.2,744.1"/>
<path class="m" d="M2072.4,747.5A114,48.3 0 0 1 2300.2,747.5"/>
<path class="b" d="M2072.4,750.9A114,48.3 0 0 1 2300.2,750.9"/>
<path class="m" d="M2072.4,754.3A114,48.3 0 0 1 2300.2,754.3"/>
<path class="m" d="M2292.3,760A106,44.9 0 1 1 2080.3,760A106,44.9 0 1 1 2292.3,760Z"/>
<path class="k" d="M2285.3,766A99,42 0 1 1 2087.3,766A99,42 0 1 1 2285.3,766Z"/>
<path class="k" d="M2279.3,772A93,39.4 0 1 1 2093.3,772A93,39.4 0 1 1 2279.3,772Z"/>
<path class="k" d="M2129.9,781.3A60,25.4 0 0 1 2242.7,781.3"/>
</g>
<path class="b" d="M2301.3,737.1A115,48.8 0 1 1 2071.3,737.1A115,48.8 0 1 1 2301.3,737.1Z"/>
<path class="m" d="M2294.4,742.5A108.5,46 0 0 1 2078.2,742.5"/>
<path class="bl" d="M2051.4,670Q2041.4,680 2002.4,693.8M2002.4,693.8Q2010,718.8 1973.9,738.9M1973.9,738.9Q2010,758.9 2002.4,783.9M2002.4,783.9Q2057.2,793.6 2080.1,816.8M2080.1,816.8Q2139.1,813.6 2186.3,828.9M2186.3,828.9Q2233.5,813.6 2292.5,816.8M2292.5,816.8Q2315.4,793.6 2370.2,783.9M2370.2,783.9Q2362.6,758.9 2398.7,738.9M2398.7,738.9Q2362.6,718.8 2370.2,693.8M2370.2,693.8Q2331.2,680 2321.2,670"/>
<ellipse cx="1999.8" cy="693.2" rx="15.9" ry="7.0" fill="#fff" stroke="#1aa3e0" stroke-width="5"/>
<ellipse class="m" cx="1999.8" cy="693.2" rx="12.2" ry="5.2"/>
<path class="k" d="M1988.8,695A12.2,5.2 0 0 1 2010.8,695"/>
<ellipse cx="1970.9" cy="738.9" rx="15.9" ry="7.0" fill="#fff" stroke="#1aa3e0" stroke-width="5"/>
<ellipse class="m" cx="1970.9" cy="738.9" rx="12.2" ry="5.2"/>
<path class="k" d="M1959.9,740.6A12.2,5.2 0 0 1 1981.9,740.6"/>
<ellipse cx="1999.8" cy="784.5" rx="15.9" ry="7.0" fill="#fff" stroke="#1aa3e0" stroke-width="5"/>
<ellipse class="m" cx="1999.8" cy="784.5" rx="12.2" ry="5.2"/>
<path class="k" d="M1988.8,786.3A12.2,5.2 0 0 1 2010.8,786.3"/>
<ellipse cx="2078.6" cy="817.9" rx="15.9" ry="7.0" fill="#fff" stroke="#1aa3e0" stroke-width="5"/>
<ellipse class="m" cx="2078.6" cy="817.9" rx="12.2" ry="5.2"/>
<path class="k" d="M2067.6,819.7A12.2,5.2 0 0 1 2089.6,819.7"/>
<ellipse cx="2186.3" cy="830.2" rx="15.9" ry="7.0" fill="#fff" stroke="#1aa3e0" stroke-width="5"/>
<ellipse class="m" cx="2186.3" cy="830.2" rx="12.2" ry="5.2"/>
<path class="k" d="M2175.3,832A12.2,5.2 0 0 1 2197.3,832"/>
<ellipse cx="2294" cy="817.9" rx="15.9" ry="7.0" fill="#fff" stroke="#1aa3e0" stroke-width="5"/>
<ellipse class="m" cx="2294" cy="817.9" rx="12.2" ry="5.2"/>
<path class="k" d="M2283,819.7A12.2,5.2 0 0 1 2305,819.7"/>
<ellipse cx="2372.8" cy="784.5" rx="15.9" ry="7.0" fill="#fff" stroke="#1aa3e0" stroke-width="5"/>
<ellipse class="m" cx="2372.8" cy="784.5" rx="12.2" ry="5.2"/>
<path class="k" d="M2361.8,786.3A12.2,5.2 0 0 1 2383.8,786.3"/>
<ellipse cx="2401.7" cy="738.9" rx="15.9" ry="7.0" fill="#fff" stroke="#1aa3e0" stroke-width="5"/>
<ellipse class="m" cx="2401.7" cy="738.9" rx="12.2" ry="5.2"/>
<path class="k" d="M2390.7,740.6A12.2,5.2 0 0 1 2412.7,740.6"/>
<ellipse cx="2372.8" cy="693.2" rx="15.9" ry="7.0" fill="#fff" stroke="#1aa3e0" stroke-width="5"/>
<ellipse class="m" cx="2372.8" cy="693.2" rx="12.2" ry="5.2"/>
<path class="k" d="M2361.8,695A12.2,5.2 0 0 1 2383.8,695"/>
<path class="k" d="M1999.8,546.3V693.2"/>
<path class="k" d="M1970.9,591V738.9"/>
<path class="k" d="M1999.8,635.7V784.5"/>
<path class="k" d="M2078.6,668.4V817.9"/>
<path class="k" d="M2186.3,775V830.2"/>
<path class="k" d="M2186.3,712V722"/>
<path class="k" d="M2294,668.4V817.9"/>
<path class="k" d="M2372.8,635.7V784.5"/>
<path class="k" d="M2401.7,591V738.9"/>
<path class="k" d="M2372.8,546.3V693.2"/>
<path class="m wf" d="M1928.1,836.9L1938.1,846.3Q1958.3,873.3 1958.9,889.5L1958.9,942.2Q1957,948.4 1951.6,946.2Q1934,932.7 1929.1,913.8L1927.3,849Q1926.4,835.5 1928.1,836.9Z"/>
<path class="m wf" d="M2023.1,899L2087.9,909.8Q2096,911.1 2096,920.6L2096,992.1Q2096,999.7 2087.9,998.6L2042,985.9Q2020.4,981.3 2018.3,959.7L2017.7,908.4Q2017.7,897.6 2023.1,899Z"/>
<path class="m wf" d="M2204,919.8L2258.1,915.2Q2275.6,915.2 2275.6,930L2275.6,990.8Q2275.6,1002.9 2260.8,1004.3L2204,1008.3Q2186.5,1008.3 2186.5,994.8L2186.5,934.1Q2186.5,920.6 2204,919.8Z"/>
<path class="m wf" d="M2403.9,872Q2413.3,872 2413.3,882.8L2413.3,932.7Q2413.3,943.5 2405.2,949.5L2366.1,977.3Q2355.3,982.7 2355.3,967.8L2355.3,904.4Q2355.3,894.9 2364.7,889.5L2403.9,872Z"/>
<path class="k" d="M2028,903L2027.2,957Q2029.9,978.6 2047.4,984L2093.3,996.2"/>
<path class="k" d="M2031.2,900.3Q2042,919.2 2096,932.7"/>
<path class="k" d="M2028,939.5Q2052.8,943.5 2096,955.7"/>
<path class="k" d="M2028,959.7Q2052.8,965.1 2096,975.9"/>
<path class="k" d="M2187.8,962.4Q2231,961.1 2275.6,953"/>
<path class="k" d="M2187.8,970.5Q2231,969.2 2275.6,961.9"/>
<path class="k" d="M2187.8,982.7Q2231,981.3 2275.6,973.2"/>
<path class="k" d="M2190.5,998.9Q2231,1000.8 2270.2,994.8"/>
<path class="k" d="M2405.2,876L2405.2,940.8Q2402.5,946.2 2366.1,973.2"/>
<path class="k" d="M2356.6,919.2Q2379.6,917.9 2405.2,909.8"/>
<path class="k" d="M2356.6,932.7Q2379.6,931.4 2405.2,923.3"/>
<path class="k" d="M2366.1,889.5Q2385,894.9 2402.5,930"/>
<path class="k" d="M1940.8,849L1943.5,930Q1946.2,940.8 1955.6,943.5"/>
<path class="k" d="M1940.8,876Q1952.9,865.2 1958.3,889.5"/>
<path class="b wf" d="M2424.2,594.5A237.9,98.7 0 0 1 1948.4,594.5V585A237.9,98.7 0 0 0 2424.2,585Z"/>
<path class="k" d="M2423.9,593.2A237.9,98.7 0 0 1 1948.7,593.2"/>
<path class="m wf" d="M2424.2,585A237.9,98.7 0 1 1 1948.4,585A237.9,98.7 0 1 1 2424.2,585Z"/>
<path class="k" d="M2410.3,610.4A231.9,96.2 0 0 1 1962.3,610.4"/>
<path class="k wf" d="M2067.6,680.4a11,4.5 0 0 0 22,0"/>
<path class="k wf" d="M2175.3,694.4a11,4.5 0 0 0 22,0"/>
<path class="k wf" d="M2283,680.4a11,4.5 0 0 0 22,0"/>
<path class="m wf" d="M2359.8,532.3V540.8A13,5.4 0 0 0 2385.8,540.8V532.3Z"/>
<path class="m wf" d="M2351.1,528.3V531.5A21.7,9 0 0 0 2394.5,531.5V528.3A21.7,9 0 0 0 2351.1,528.3Z"/>
<ellipse class="m wf" cx="2372.8" cy="528.3" rx="21.7" ry="9"/>
<ellipse class="m wf" cx="2372.8" cy="527.7" rx="15.6" ry="6.3"/>
<path class="m wf" d="M2354.8,500V519.8L2371.8,524.3L2390.8,519.8V500A18,7.6 0 0 0 2354.8,500Z"/>
<ellipse class="m wf" cx="2372.8" cy="500" rx="17.2" ry="7"/>
<path class="k" d="M2354.8,505L2371.8,510.5L2390.8,505M2371.8,510.5V524.3"/>
<path class="m wf" d="M1986.8,532.3V540.8A13,5.4 0 0 0 2012.8,540.8V532.3Z"/>
<path class="m wf" d="M1978.1,528.3V531.5A21.7,9 0 0 0 2021.5,531.5V528.3A21.7,9 0 0 0 1978.1,528.3Z"/>
<ellipse class="m wf" cx="1999.8" cy="528.3" rx="21.7" ry="9"/>
<ellipse class="m wf" cx="1999.8" cy="527.7" rx="15.6" ry="6.3"/>
<path class="m wf" d="M1981.8,500V519.8L1998.8,524.3L2017.8,519.8V500A18,7.6 0 0 0 1981.8,500Z"/>
<ellipse class="m wf" cx="1999.8" cy="500" rx="17.2" ry="7"/>
<path class="k" d="M1981.8,505L1998.8,510.5L2017.8,505M1998.8,510.5V524.3"/>
<path class="m wf" d="M2374,585A187.7,77.9 0 0 1 1998.6,585V559A185.7,77.1 0 0 0 2372,559Z"/>
<path class="k" d="M2372.9,599.7A189.5,78.6 0 0 1 1999.7,599.7"/>
<path class="m wf" d="M2372,559A185.7,77.1 0 1 1 2000.6,559A185.7,77.1 0 1 1 2372,559Z"/>
<path class="m wf" d="M2356.7,556A170.4,70.7 0 1 1 2015.9,556A170.4,70.7 0 1 1 2356.7,556Z"/>
<path class="b" d="M2352.2,553A166.5,69.1 0 1 1 2020.4,553"/>
<path class="m" d="M2348.2,556.1A162.5,67.4 0 1 1 2024.4,556.1"/>
<path class="b" d="M2344.2,559.3A158.5,65.8 0 1 1 2028.4,559.3"/>
<path class="m" d="M2340.2,562.4A154.5,64.1 0 1 1 2032.4,562.4"/>
<path class="m wf" d="M2336.9,562A150.6,61 0 0 1 2035.7,562V533A150.6,61 0 0 0 2336.9,533Z"/>
<path class="m wf" d="M2336.9,533A150.6,61 0 0 1 2035.7,533V437.7A150.6,61 0 0 0 2336.9,437.7Z"/>
<path d="M2336.9,442.5L2336.7,445.8L2336.7,536.6L2336.9,533.3ZM2336.2,448.5L2335.2,451.8L2335.2,542.6L2336.2,539.3ZM2334,454.6L2332.2,457.8L2332.2,548.6L2334,545.4ZM2330.4,460.5L2327.8,463.6L2327.8,554.4L2330.4,551.3ZM2325.3,466.2L2322,469.2L2322,560L2325.3,557ZM2318.8,471.7L2314.8,474.5L2314.8,565.3L2318.8,562.5ZM2311,476.9L2306.3,479.5L2306.3,570.3L2311,567.7ZM2302,481.7L2296.7,484.2L2296.7,575L2302,572.5ZM2291.9,486.2L2285.9,488.4L2285.9,579.2L2291.9,577ZM2280.6,490.2L2274.2,492.2L2274.2,583L2280.6,581ZM2268.5,493.8L2261.6,495.5L2261.6,586.3L2268.5,584.6ZM2255.5,496.9L2248.2,498.3L2248.2,589.1L2255.5,587.7ZM2241.8,499.4L2234.2,500.5L2234.2,591.3L2241.8,590.2ZM2227.6,501.4L2219.8,502.2L2219.8,593L2227.6,592.2ZM2213,502.7L2205,503.2L2205,594L2213,593.5ZM2198.1,503.5L2190,503.7L2190,594.5L2198.1,594.3ZM2183.1,503.7L2175,503.5L2175,594.3L2183.1,594.5ZM2168.1,503.2L2160.1,502.8L2160.1,593.6L2168.1,594ZM2153.3,502.2L2145.5,501.4L2145.5,592.2L2153.3,593ZM2138.9,500.6L2131.2,499.5L2131.2,590.3L2138.9,591.4ZM2124.9,498.4L2117.6,497L2117.6,587.8L2124.9,589.2ZM2111.5,495.6L2104.6,493.9L2104.6,584.7L2111.5,586.4ZM2098.8,492.4L2092.4,490.4L2092.4,581.2L2098.8,583.2ZM2087.1,488.6L2081.1,486.4L2081.1,577.2L2087.1,579.4ZM2076.3,484.4L2070.9,481.9L2070.9,572.7L2076.3,575.2ZM2066.6,479.7L2061.8,477L2061.8,567.8L2066.6,570.5ZM2058.1,474.7L2054,471.9L2054,562.7L2058.1,565.5ZM2050.9,469.4L2047.5,466.4L2047.5,557.2L2050.9,560.2ZM2045,463.8L2042.4,460.7L2042.4,551.5L2045,554.6ZM2040.5,458L2038.7,454.8L2038.7,545.6L2040.5,548.8ZM2037.5,452L2036.4,448.8L2036.4,539.6L2037.5,542.8ZM2035.9,446L2035.7,442.7L2035.7,533.5L2035.9,536.8ZM2035.9,439.9L2036.5,436.6L2036.5,527.4L2035.9,530.7ZM2336.1,436.4L2336.7,439.7L2336.7,530.5L2336.1,527.2Z" fill="#1c1819"/>
<path d="M2336.9,446.7L2336.9,532M2335.9,452.8L2335.9,538.1M2333.4,458.8L2333.4,544.1M2329.5,464.6L2329.5,549.9M2324.1,470.3L2324.1,555.6M2317.4,475.7L2317.4,561M2309.3,480.9L2309.3,566.2M2300.1,485.7L2300.1,571M2289.7,490L2289.7,575.3M2278.3,494L2278.3,579.3M2265.9,497.5L2265.9,582.8M2252.8,500.4L2252.8,585.7M2239,502.8L2239,588.1M2224.7,504.7L2224.7,590M2210,505.9L2210,591.2M2195.1,506.6L2195.1,591.9M2180.1,506.6L2180.1,591.9M2165.2,506.1L2165.2,591.4M2150.4,504.9L2150.4,590.2M2136,503.2L2136,588.5M2122.1,500.9L2122.1,586.2M2108.9,498L2108.9,583.3M2096.4,494.6L2096.4,579.9M2084.8,490.8L2084.8,576.1M2074.3,486.5L2074.3,571.8M2064.8,481.7L2064.8,567M2056.5,476.7L2056.5,562M2049.6,471.3L2049.6,556.6M2044,465.6L2044,550.9M2039.8,459.8L2039.8,545.1M2037,453.8L2037,539.1M2035.8,447.8L2035.8,533.1M2036,441.7L2036,527M2336.4,440.6L2336.4,525.9" stroke="#fff" stroke-width="0.9" fill="none"/>
<path class="k" d="M2336.5,449L2336.5,536.3M2336.7,445.8L2336.6,442.9L2336.3,444.4L2336.2,448.5M2334.7,455L2334.7,542.3M2335.2,451.8L2335,448.9L2334.3,450.5L2334,454.6M2331.5,460.9L2331.5,548.2M2332.2,457.8L2331.8,454.9L2330.8,456.4L2330.4,460.5M2326.7,466.7L2326.7,554M2327.8,463.6L2327.3,460.6L2325.8,462.1L2325.3,466.2M2320.6,472.3L2320.6,559.6M2322,469.2L2321.3,466.2L2319.5,467.6L2318.8,471.7M2313.2,477.5L2313.2,564.8M2314.8,474.5L2314,471.5L2311.9,472.9L2311,476.9M2304.5,482.5L2304.5,569.8M2306.3,479.5L2305.4,476.5L2303,477.7L2302,481.7M2294.6,487.1L2294.6,574.4M2296.7,484.2L2295.6,481.1L2292.9,482.3L2291.9,486.2M2283.6,491.2L2283.6,578.5M2285.9,488.4L2284.8,485.3L2281.8,486.3L2280.6,490.2M2271.7,494.9L2271.7,582.2M2274.2,492.2L2272.9,489.1L2269.7,490L2268.5,493.8M2259,498.1L2259,585.4M2261.6,495.5L2260.2,492.3L2256.8,493.1L2255.5,496.9M2245.5,500.8L2245.5,588.1M2248.2,498.3L2246.8,495L2243.2,495.7L2241.8,499.4M2231.4,502.9L2231.4,590.2M2234.2,500.5L2232.8,497.2L2229.1,497.7L2227.6,501.4M2216.8,504.4L2216.8,591.7M2219.8,502.2L2218.3,498.8L2214.5,499.1L2213,502.7M2202,505.4L2202,592.7M2205,503.2L2203.5,499.8L2199.6,499.9L2198.1,503.5M2187,505.7L2187,593M2190,503.7L2188.5,500.2L2184.6,500.2L2183.1,503.7M2172,505.4L2172,592.7M2175,503.5L2173.5,500L2169.6,499.8L2168.1,503.2M2157.2,504.5L2157.2,591.8M2160.1,502.8L2158.6,499.1L2154.8,498.8L2153.3,502.2M2142.6,503.1L2142.6,590.4M2145.5,501.4L2144,497.7L2140.3,497.3L2138.9,500.6M2128.5,501L2128.5,588.3M2131.2,499.5L2129.8,495.7L2126.3,495.1L2124.9,498.4M2114.9,498.4L2114.9,585.7M2117.6,497L2116.2,493.2L2112.8,492.4L2111.5,495.6M2102.1,495.3L2102.1,582.6M2104.6,493.9L2103.3,490.1L2100.1,489.2L2098.8,492.4M2090,491.6L2090,578.9M2092.4,490.4L2091.2,486.5L2088.2,485.5L2087.1,488.6M2079,487.5L2079,574.8M2081.1,486.4L2080.1,482.4L2077.3,481.3L2076.3,484.4M2069,483L2069,570.3M2070.9,481.9L2070,477.9L2067.5,476.7L2066.6,479.7M2060.2,478L2060.2,565.3M2061.8,477L2061,473L2058.9,471.7L2058.1,474.7M2052.6,472.8L2052.6,560.1M2054,471.9L2053.3,467.8L2051.6,466.4L2050.9,469.4M2046.4,467.3L2046.4,554.6M2047.5,466.4L2047,462.3L2045.5,460.8L2045,463.8M2041.5,461.5L2041.5,548.8M2042.4,460.7L2042,456.6L2040.9,455.1L2040.5,458M2038.1,455.6L2038.1,542.9M2038.7,454.8L2038.4,450.7L2037.7,449.1L2037.5,452M2036.2,449.5L2036.2,536.8M2036.4,448.8L2036.3,444.6L2036,443.1L2035.9,446M2035.7,443.5L2035.7,530.8M2035.7,442.7L2035.7,438.6L2035.8,437L2035.9,439.9M2336.8,442.9L2336.8,530.2M2336.7,439.7L2336.8,436.8L2336.9,438.4L2336.9,442.5"/>
<path class="b" d="M2336.9,533.8A150.6,61 0 0 1 2035.7,533.8"/>
<path class="m wf" d="M2336.9,437.7A150.6,61 0 1 1 2035.7,437.7A150.6,61 0 1 1 2336.9,437.7Z"/>
<path class="b" d="M2036.9,429.2A150.9,61.1 0 0 1 2335.7,429.2" stroke-dasharray="2.2 2.4"/>
<path class="k" d="M2327.8,437.7A141.5,57.3 0 1 1 2044.8,437.7A141.5,57.3 0 1 1 2327.8,437.7Z"/>
<path class="m wf" d="M2318.9,437.7A132.6,53.7 0 1 1 2053.7,437.7A132.6,53.7 0 1 1 2318.9,437.7Z"/>
<path class="m" d="M2078.2,467.6A132.6,53.7 0 0 1 2294.4,467.6"/>
<path class="m wf" d="M2388.7,577V585.5A13,5.4 0 0 0 2414.7,585.5V577Z"/>
<path class="m wf" d="M2380,573V576.2A21.7,9 0 0 0 2423.4,576.2V573A21.7,9 0 0 0 2380,573Z"/>
<ellipse class="m wf" cx="2401.7" cy="573" rx="21.7" ry="9"/>
<ellipse class="m wf" cx="2401.7" cy="572.4" rx="15.6" ry="6.3"/>
<path class="m wf" d="M2383.7,544.7V564.5L2400.7,569L2419.7,564.5V544.7A18,7.6 0 0 0 2383.7,544.7Z"/>
<ellipse class="m wf" cx="2401.7" cy="544.7" rx="17.2" ry="7"/>
<path class="k" d="M2383.7,549.7L2400.7,555.2L2419.7,549.7M2400.7,555.2V569"/>
<path class="m wf" d="M1957.9,577V585.5A13,5.4 0 0 0 1983.9,585.5V577Z"/>
<path class="m wf" d="M1949.2,573V576.2A21.7,9 0 0 0 1992.6,576.2V573A21.7,9 0 0 0 1949.2,573Z"/>
<ellipse class="m wf" cx="1970.9" cy="573" rx="21.7" ry="9"/>
<ellipse class="m wf" cx="1970.9" cy="572.4" rx="15.6" ry="6.3"/>
<path class="m wf" d="M1952.9,544.7V564.5L1969.9,569L1988.9,564.5V544.7A18,7.6 0 0 0 1952.9,544.7Z"/>
<ellipse class="m wf" cx="1970.9" cy="544.7" rx="17.2" ry="7"/>
<path class="k" d="M1952.9,549.7L1969.9,555.2L1988.9,549.7M1969.9,555.2V569"/>
<path class="m wf" d="M1986.8,621.7V630.2A13,5.4 0 0 0 2012.8,630.2V621.7Z"/>
<path class="m wf" d="M1978.1,617.7V620.9A21.7,9 0 0 0 2021.5,620.9V617.7A21.7,9 0 0 0 1978.1,617.7Z"/>
<ellipse class="m wf" cx="1999.8" cy="617.7" rx="21.7" ry="9"/>
<ellipse class="m wf" cx="1999.8" cy="617.1" rx="15.6" ry="6.3"/>
<path class="m wf" d="M1981.8,589.4V609.2L1998.8,613.7L2017.8,609.2V589.4A18,7.6 0 0 0 1981.8,589.4Z"/>
<ellipse class="m wf" cx="1999.8" cy="589.4" rx="17.2" ry="7"/>
<path class="k" d="M1981.8,594.4L1998.8,599.9L2017.8,594.4M1998.8,599.9V613.7"/>
<path class="m wf" d="M2359.8,621.7V630.2A13,5.4 0 0 0 2385.8,630.2V621.7Z"/>
<path class="m wf" d="M2351.1,617.7V620.9A21.7,9 0 0 0 2394.5,620.9V617.7A21.7,9 0 0 0 2351.1,617.7Z"/>
<ellipse class="m wf" cx="2372.8" cy="617.7" rx="21.7" ry="9"/>
<ellipse class="m wf" cx="2372.8" cy="617.1" rx="15.6" ry="6.3"/>
<path class="m wf" d="M2354.8,589.4V609.2L2371.8,613.7L2390.8,609.2V589.4A18,7.6 0 0 0 2354.8,589.4Z"/>
<ellipse class="m wf" cx="2372.8" cy="589.4" rx="17.2" ry="7"/>
<path class="k" d="M2354.8,594.4L2371.8,599.9L2390.8,594.4M2371.8,599.9V613.7"/>
<path class="m wf" d="M2281.6,579.4V628.4A12.4,7.8 0 0 0 2306.4,628.4V579.4Z"/>
<path class="k" d="M2281.6,624.4A12.4,4.9 0 0 0 2306.4,624.4"/>
<path class="m wf" d="M2272.3,575.4V578.6A21.7,9 0 0 0 2315.7,578.6V575.4A21.7,9 0 0 0 2272.3,575.4Z"/>
<ellipse class="m wf" cx="2294" cy="575.4" rx="21.7" ry="9"/>
<ellipse class="m wf" cx="2294" cy="574.8" rx="15.6" ry="6.3"/>
<path class="m wf" d="M2276,547.1V566.9L2293,571.4L2312,566.9V547.1A18,7.6 0 0 0 2276,547.1Z"/>
<ellipse class="m wf" cx="2294" cy="547.1" rx="17.2" ry="7"/>
<path class="k" d="M2276,552.1L2293,557.6L2312,552.1M2293,557.6V571.4"/>
<path class="k" d="M2294,632.4V665.4" stroke-dasharray="7 3"/>
<ellipse class="m" cx="2294" cy="662.4" rx="12.4" ry="4.9"/>
<path class="m wf" d="M2065.6,654.4V662.9A13,5.4 0 0 0 2091.6,662.9V654.4Z"/>
<path class="m wf" d="M2056.9,650.4V653.6A21.7,9 0 0 0 2100.3,653.6V650.4A21.7,9 0 0 0 2056.9,650.4Z"/>
<ellipse class="m wf" cx="2078.6" cy="650.4" rx="21.7" ry="9"/>
<ellipse class="m wf" cx="2078.6" cy="649.8" rx="15.6" ry="6.3"/>
<path class="m wf" d="M2060.6,622.1V641.9L2077.6,646.4L2096.6,641.9V622.1A18,7.6 0 0 0 2060.6,622.1Z"/>
<ellipse class="m wf" cx="2078.6" cy="622.1" rx="17.2" ry="7"/>
<path class="k" d="M2060.6,627.1L2077.6,632.6L2096.6,627.1M2077.6,632.6V646.4"/>
<path class="m wf" d="M2173.3,666.4V674.9A13,5.4 0 0 0 2199.3,674.9V666.4Z"/>
<path class="m wf" d="M2164.6,662.4V665.6A21.7,9 0 0 0 2208,665.6V662.4A21.7,9 0 0 0 2164.6,662.4Z"/>
<ellipse class="m wf" cx="2186.3" cy="662.4" rx="21.7" ry="9"/>
<ellipse class="m wf" cx="2186.3" cy="661.8" rx="15.6" ry="6.3"/>
<path class="m wf" d="M2168.3,634.1V653.9L2185.3,658.4L2204.3,653.9V634.1A18,7.6 0 0 0 2168.3,634.1Z"/>
<ellipse class="m wf" cx="2186.3" cy="634.1" rx="17.2" ry="7"/>
<path class="k" d="M2168.3,639.1L2185.3,644.6L2204.3,639.1M2185.3,644.6V658.4"/>
<path class="r" d="M2013.3,398.9L2043.3,428.8"/>
<path fill="#e8212b" d="M2050.5,436L2034.2,428.2L2042.3,427.8L2042.7,419.7Z"/>
<path class="r" d="M2442.7,506.7L2414.9,532.4"/>
<path fill="#e8212b" d="M2407.4,539.3L2415.8,523.4L2415.9,531.5L2424,532.2Z"/>
<path class="r" d="M1893.3,657.1L1949.9,719.7"/>
<path fill="#e8212b" d="M1956.7,727.3L1940.9,718.7L1949,718.7L1949.8,710.7Z"/>
</svg>
<div class="t sans lb" style="left:1916px;top:376px">刹车主动端</div>
<div class="t sans lb" style="left:2449px;top:444px">六角头螺栓</div>
<div class="t sans lb" style="left:2449px;top:469px">涂螺纹紧固胶 <span style="letter-spacing:-.2px">Loctite 277</span></div>
<div class="t sans lb" style="left:2449px;top:494px">拧紧力矩<span style="letter-spacing:.6px">1320</span><span class="fw" style="transform:scale(1.35)">±</span><span style="letter-spacing:.6px">169Nm</span></div>
<div class="t sans lb" style="left:1701.5px;top:639px">涂密封胶 <span style="letter-spacing:-.2px">Loctite 5699</span></div>
<svg id="d5" style="left:0;top:0" width="2913" height="2047" viewBox="0 0 2913 2047">
<style>#d5 .m{stroke-width:1.35}#d5 .k{stroke-width:1}#d5 .b{stroke-width:1.8}</style>
<defs><g id="asm5">
<path class="k" d="M1923.8,1647.3V1801.6 M2448.8,1653.3V1805.6"/>
<path class="m" d="M2448.6,1638.2A262.5,111.3 0 0 1 1924,1638.2"/>
<path class="m wf" d="M2464.2,1611.5A277.9,117.8 0 0 1 1908.4,1611.5V1602.5A277.9,117.8 0 0 0 2464.2,1602.5Z"/>
<path class="b" d="M2464.2,1611.5A277.9,117.8 0 0 1 1908.4,1611.5"/>
<path class="k" d="M2464.2,1607A277.9,117.8 0 0 1 1908.4,1607"/>
<path class="m wf" d="M2464.2,1602.5A277.9,117.8 0 1 1 1908.4,1602.5A277.9,117.8 0 1 1 2464.2,1602.5Z"/>
<path class="k" d="M2453.6,1619.4A269.9,114.4 0 0 1 1919,1619.4"/>
<path class="k" d="M2435.2,1642.4A264.9,112.3 0 0 1 1937.4,1642.4"/>
<g transform="translate(0,863.6)">
<path class="wf" stroke="none" d="M2461.5,724.5H2472V758.5L2457,756L2443,756L2441.5,752Z"/>
<path class="m" d="M2461.5,720.5V726L2445.5,752Q2442,755.8 2447,755.4L2456,755L2461.3,757"/>
<path class="k" d="M2443,722.8H2461"/>
<circle class="m wf" cx="2436.4" cy="723.4" r="6.6"/>
<path class="k" d="M2431,727a5.5,5 0 0 1 8,-8M2434,730V757"/>
</g>
<path class="m" d="M1967.6,1595.2A219.4,93 0 0 1 1988.3,1562.4"/>
<path class="k" d="M1962.9,1594.8A224.4,95.1 0 0 1 1982.1,1564.5"/>
<path class="m" d="M1932.6,1580.9Q1962.8,1584.6 1966.6,1578.5Q1970.5,1572.4 1938.8,1571.1"/>
<path class="k" d="M1931.1,1585.4Q1963.7,1590.5 1969.5,1581.3Q1975.4,1572.1 1940.4,1570.6"/>
<path class="m" d="M1967.6,1595.2L1938.6,1592.1"/>
<path class="k" d="M1938.6,1592.1Q1938.7,1591.8 1938.7,1586.4"/>
<path class="m" d="M1988.3,1562.4L1957.2,1562.6"/>
<path class="k" d="M1957.2,1562.6Q1953.7,1568.1 1950.1,1568.5"/>
<path class="m" d="M1988.3,1642.5A219.4,93 0 0 1 1967.6,1609.7"/>
<path class="k" d="M1982.1,1643.4A224.4,95.1 0 0 1 1962.9,1613.1"/>
<path class="m" d="M1938.8,1637.8Q1970.5,1634.5 1966.6,1628.4Q1962.8,1622.3 1932.6,1628"/>
<path class="k" d="M1940.4,1642.3Q1975.4,1639.8 1969.5,1630.6Q1963.7,1621.4 1931.1,1627.5"/>
<path class="m" d="M1988.3,1642.5L1957.2,1646.3"/>
<path class="k" d="M1957.2,1646.3Q1953.7,1646.3 1950.1,1641.4"/>
<path class="m" d="M1967.6,1609.7L1938.6,1616.8"/>
<path class="k" d="M1938.6,1616.8Q1938.7,1622.6 1938.7,1623.5"/>
<path class="m" d="M2062,1679.1A219.4,93 0 0 1 2005.5,1655.1"/>
<path class="k" d="M2056,1681.4A224.4,95.1 0 0 1 2003.6,1659.2"/>
<path class="m" d="M2011.4,1685.8Q2036.1,1676.1 2025.5,1671.6Q2014.9,1667.1 1994.4,1678.6"/>
<path class="k" d="M2015.6,1689.6Q2043.5,1680 2027.6,1673.2Q2011.7,1666.5 1990.1,1678.8"/>
<path class="m" d="M2062,1679.1L2037.3,1689.2"/>
<path class="k" d="M2037.3,1689.2Q2031,1690.4 2024.7,1686.6"/>
<path class="m" d="M2005.5,1655.1L1986.3,1667.6"/>
<path class="k" d="M1986.3,1667.6Q1990,1673.1 1993.7,1673.5"/>
<path class="m" d="M2169.1,1695.2A219.4,93 0 0 1 2091.8,1686.4"/>
<path class="k" d="M2164.8,1698.7A224.4,95.1 0 0 1 2093.2,1690.5"/>
<path class="m" d="M2130.8,1712Q2141.9,1698.2 2127.4,1696.6Q2113,1694.9 2107.6,1709.4"/>
<path class="k" d="M2136.5,1714.7Q2150,1700.3 2128.2,1697.9Q2106.5,1695.4 2101.8,1710.7"/>
<path class="m" d="M2169.1,1695.2L2157.2,1709.5"/>
<path class="k" d="M2157.2,1709.5Q2149.9,1712.2 2142.6,1709.9"/>
<path class="m" d="M2091.8,1686.4L2087.7,1701.6"/>
<path class="k" d="M2087.7,1701.6Q2094,1705.8 2100.3,1705.1"/>
<path class="m" d="M2280.8,1686.4A219.4,93 0 0 1 2203.5,1695.2"/>
<path class="k" d="M2279.4,1690.5A224.4,95.1 0 0 1 2207.8,1698.7"/>
<path class="m" d="M2265,1709.4Q2259.6,1694.9 2245.2,1696.6Q2230.7,1698.2 2241.8,1712"/>
<path class="k" d="M2270.8,1710.7Q2266.1,1695.4 2244.4,1697.9Q2222.6,1700.3 2236.1,1714.7"/>
<path class="m" d="M2280.8,1686.4L2284.9,1701.6"/>
<path class="k" d="M2284.9,1701.6Q2278.6,1705.8 2272.3,1705.1"/>
<path class="m" d="M2203.5,1695.2L2215.4,1709.5"/>
<path class="k" d="M2215.4,1709.5Q2222.7,1712.2 2230,1709.9"/>
<path class="m" d="M2367.1,1655.1A219.4,93 0 0 1 2310.6,1679.1"/>
<path class="k" d="M2369,1659.2A224.4,95.1 0 0 1 2316.6,1681.4"/>
<path class="m" d="M2378.2,1678.6Q2357.7,1667.1 2347.1,1671.6Q2336.5,1676.1 2361.2,1685.8"/>
<path class="k" d="M2382.5,1678.8Q2360.9,1666.5 2345,1673.2Q2329.1,1680 2357,1689.6"/>
<path class="m" d="M2367.1,1655.1L2386.3,1667.6"/>
<path class="k" d="M2386.3,1667.6Q2382.6,1673.1 2378.9,1673.5"/>
<path class="m" d="M2310.6,1679.1L2335.3,1689.2"/>
<path class="k" d="M2335.3,1689.2Q2341.6,1690.4 2347.9,1686.6"/>
<path class="m" d="M2405,1609.7A219.4,93 0 0 1 2384.3,1642.5"/>
<path class="k" d="M2409.7,1613.1A224.4,95.1 0 0 1 2390.5,1643.4"/>
<path class="m" d="M2440,1628Q2409.8,1622.3 2406,1628.4Q2402.1,1634.5 2433.8,1637.8"/>
<path class="k" d="M2441.5,1627.5Q2408.9,1621.4 2403.1,1630.6Q2397.2,1639.8 2432.2,1642.3"/>
<path class="m" d="M2405,1609.7L2434,1616.8"/>
<path class="k" d="M2434,1616.8Q2433.9,1622.6 2433.9,1623.5"/>
<path class="m" d="M2384.3,1642.5L2415.4,1646.3"/>
<path class="k" d="M2415.4,1646.3Q2418.9,1646.3 2422.5,1641.4"/>
<path class="m" d="M2384.3,1562.4A219.4,93 0 0 1 2405,1595.2"/>
<path class="k" d="M2390.5,1564.5A224.4,95.1 0 0 1 2409.7,1594.8"/>
<path class="m" d="M2433.8,1571.1Q2402.1,1572.4 2406,1578.5Q2409.8,1584.6 2440,1580.9"/>
<path class="k" d="M2432.2,1570.6Q2397.2,1572.1 2403.1,1581.3Q2408.9,1590.5 2441.5,1585.4"/>
<path class="m" d="M2384.3,1562.4L2415.4,1562.6"/>
<path class="k" d="M2415.4,1562.6Q2418.9,1568.1 2422.5,1568.5"/>
<path class="m" d="M2405,1595.2L2434,1592.1"/>
<path class="k" d="M2434,1592.1Q2433.9,1591.8 2433.9,1586.4"/>
<path class="m wf" d="M1928.1,1700.5L1938.1,1709.9Q1958.3,1736.9 1958.9,1753.1L1958.9,1805.8Q1957,1812 1951.6,1809.8Q1934,1796.3 1929.1,1777.4L1927.3,1712.6Q1926.4,1699.1 1928.1,1700.5Z"/>
<path class="m wf" d="M2023.1,1762.6L2087.9,1773.4Q2096,1774.7 2096,1784.2L2096,1855.7Q2096,1863.3 2087.9,1862.2L2042,1849.5Q2020.4,1844.9 2018.3,1823.3L2017.7,1772Q2017.7,1761.2 2023.1,1762.6Z"/>
<path class="m wf" d="M2204,1783.4L2258.1,1778.8Q2275.6,1778.8 2275.6,1793.6L2275.6,1854.4Q2275.6,1866.5 2260.8,1867.9L2204,1871.9Q2186.5,1871.9 2186.5,1858.4L2186.5,1797.7Q2186.5,1784.2 2204,1783.4Z"/>
<path class="m wf" d="M2403.9,1735.6Q2413.3,1735.6 2413.3,1746.4L2413.3,1796.3Q2413.3,1807.1 2405.2,1813.1L2366.1,1840.9Q2355.3,1846.3 2355.3,1831.4L2355.3,1768Q2355.3,1758.5 2364.7,1753.1L2403.9,1735.6Z"/>
<path class="k" d="M2028,1766.6L2027.2,1820.6Q2029.9,1842.2 2047.4,1847.6L2093.3,1859.8"/>
<path class="k" d="M2031.2,1763.9Q2042,1782.8 2096,1796.3"/>
<path class="k" d="M2028,1803.1Q2052.8,1807.1 2096,1819.3"/>
<path class="k" d="M2028,1823.3Q2052.8,1828.7 2096,1839.5"/>
<path class="k" d="M2187.8,1826Q2231,1824.7 2275.6,1816.6"/>
<path class="k" d="M2187.8,1834.1Q2231,1832.8 2275.6,1825.5"/>
<path class="k" d="M2187.8,1846.3Q2231,1844.9 2275.6,1836.8"/>
<path class="k" d="M2190.5,1862.5Q2231,1864.4 2270.2,1858.4"/>
<path class="k" d="M2405.2,1739.6L2405.2,1804.4Q2402.5,1809.8 2366.1,1836.8"/>
<path class="k" d="M2356.6,1782.8Q2379.6,1781.5 2405.2,1773.4"/>
<path class="k" d="M2356.6,1796.3Q2379.6,1795 2405.2,1786.9"/>
<path class="k" d="M2366.1,1753.1Q2385,1758.5 2402.5,1793.6"/>
<path class="k" d="M1940.8,1712.6L1943.5,1793.6Q1946.2,1804.4 1955.6,1807.1"/>
<path class="k" d="M1940.8,1739.6Q1952.9,1728.8 1958.3,1753.1"/>
<path class="b wf" d="M2424.2,1602.8A237.9,98.7 0 0 1 1948.4,1602.8V1582.8A237.9,98.7 0 0 0 2424.2,1582.8Z"/>
<path class="k" d="M2423.9,1591A237.9,98.7 0 0 1 1948.7,1591"/>
<path class="m wf" d="M2424.2,1582.8A237.9,98.7 0 1 1 1948.4,1582.8A237.9,98.7 0 1 1 2424.2,1582.8Z"/>
<path class="k" d="M2410.3,1608.2A231.9,96.2 0 0 1 1962.3,1608.2"/>
<path class="m wf" d="M2351.1,1538.1V1541.3A21.7,9 0 0 0 2394.5,1541.3V1538.1A21.7,9 0 0 0 2351.1,1538.1Z"/>
<ellipse class="m wf" cx="2372.8" cy="1538.1" rx="21.7" ry="9"/>
<ellipse class="m wf" cx="2372.8" cy="1537.5" rx="15.6" ry="6.3"/>
<path class="m wf" d="M2354.8,1518.1V1536.1L2371.8,1540.6L2390.8,1536.1V1518.1A18,7.6 0 0 0 2354.8,1518.1Z"/>
<ellipse class="m wf" cx="2372.8" cy="1518.1" rx="17.2" ry="7"/>
<path class="k" d="M2354.8,1523.1L2371.8,1528.6L2390.8,1523.1M2371.8,1528.6V1540.6"/>
<path class="m wf" d="M1978.1,1538.1V1541.3A21.7,9 0 0 0 2021.5,1541.3V1538.1A21.7,9 0 0 0 1978.1,1538.1Z"/>
<ellipse class="m wf" cx="1999.8" cy="1538.1" rx="21.7" ry="9"/>
<ellipse class="m wf" cx="1999.8" cy="1537.5" rx="15.6" ry="6.3"/>
<path class="m wf" d="M1981.8,1518.1V1536.1L1998.8,1540.6L2017.8,1536.1V1518.1A18,7.6 0 0 0 1981.8,1518.1Z"/>
<ellipse class="m wf" cx="1999.8" cy="1518.1" rx="17.2" ry="7"/>
<path class="k" d="M1981.8,1523.1L1998.8,1528.6L2017.8,1523.1M1998.8,1528.6V1540.6"/>
<path class="m wf" d="M2374,1582.8A187.7,77.9 0 0 1 1998.6,1582.8V1551.8A185.7,77.1 0 0 0 2372,1551.8Z"/>
<path class="k" d="M2372.9,1597.5A189.5,78.6 0 0 1 1999.7,1597.5"/>
<path class="m wf" d="M2372,1551.8A185.7,77.1 0 1 1 2000.6,1551.8A185.7,77.1 0 1 1 2372,1551.8Z"/>
<path class="m wf" d="M2356.7,1548.8A170.4,70.7 0 1 1 2015.9,1548.8A170.4,70.7 0 1 1 2356.7,1548.8Z"/>
<path class="k" d="M2352.2,1545.8A166.5,69.1 0 1 1 2020.4,1545.8"/>
<path class="k" d="M2348.2,1548.9A162.5,67.4 0 1 1 2024.4,1548.9"/>
<path class="k" d="M2344.2,1552.1A158.5,65.8 0 1 1 2028.4,1552.1"/>
<path class="k" d="M2340.2,1555.2A154.5,64.1 0 1 1 2032.4,1555.2"/>
<path class="m wf" d="M2336.9,1559.8A150.6,61 0 0 1 2035.7,1559.8V1530.8A150.6,61 0 0 0 2336.9,1530.8Z"/>
<path class="m wf" d="M2336.9,1530.8A150.6,61 0 0 1 2035.7,1530.8V1435.5A150.6,61 0 0 0 2336.9,1435.5Z"/>
<path class="k" d="M2336.9,1441.5L2336.8,1442.5L2336.8,1533.3L2336.9,1532.3ZM2335.9,1447.6L2335.6,1448.6L2335.6,1539.4L2335.9,1538.4ZM2333.4,1453.6L2332.8,1454.6L2332.8,1545.4L2333.4,1544.4ZM2329.5,1459.4L2328.7,1460.4L2328.7,1551.2L2329.5,1550.2ZM2324.1,1465.1L2323.1,1466L2323.1,1556.8L2324.1,1555.9ZM2317.4,1470.5L2316.1,1471.4L2316.1,1562.2L2317.4,1561.3ZM2309.3,1475.7L2307.9,1476.5L2307.9,1567.3L2309.3,1566.5ZM2300.1,1480.5L2298.4,1481.2L2298.4,1572L2300.1,1571.3ZM2289.7,1484.8L2287.8,1485.6L2287.8,1576.4L2289.7,1575.6ZM2278.3,1488.8L2276.2,1489.4L2276.2,1580.2L2278.3,1579.6ZM2265.9,1492.3L2263.8,1492.8L2263.8,1583.6L2265.9,1583.1ZM2252.8,1495.2L2250.5,1495.7L2250.5,1586.5L2252.8,1586ZM2239,1497.6L2236.6,1498L2236.6,1588.8L2239,1588.4ZM2224.7,1499.5L2222.3,1499.7L2222.3,1590.5L2224.7,1590.3ZM2210,1500.7L2207.5,1500.9L2207.5,1591.7L2210,1591.5ZM2195.1,1501.4L2192.6,1501.4L2192.6,1592.2L2195.1,1592.2ZM2180.1,1501.4L2177.6,1501.4L2177.6,1592.2L2180.1,1592.2ZM2165.2,1500.9L2162.6,1500.7L2162.6,1591.5L2165.2,1591.7ZM2150.4,1499.7L2147.9,1499.5L2147.9,1590.3L2150.4,1590.5ZM2136,1498L2133.6,1497.6L2133.6,1588.4L2136,1588.8ZM2122.1,1495.7L2119.8,1495.2L2119.8,1586L2122.1,1586.5ZM2108.9,1492.8L2106.7,1492.3L2106.7,1583.1L2108.9,1583.6ZM2096.4,1489.4L2094.4,1488.8L2094.4,1579.6L2096.4,1580.2ZM2084.8,1485.6L2083,1484.9L2083,1575.7L2084.8,1576.4ZM2074.3,1481.3L2072.6,1480.5L2072.6,1571.3L2074.3,1572.1ZM2064.8,1476.5L2063.3,1475.7L2063.3,1566.5L2064.8,1567.3ZM2056.5,1471.5L2055.3,1470.6L2055.3,1561.4L2056.5,1562.3ZM2049.6,1466.1L2048.5,1465.1L2048.5,1555.9L2049.6,1556.9ZM2044,1460.4L2043.2,1459.4L2043.2,1550.2L2044,1551.2ZM2039.8,1454.6L2039.2,1453.6L2039.2,1544.4L2039.8,1545.4ZM2037,1448.6L2036.7,1447.6L2036.7,1538.4L2037,1539.4ZM2035.8,1442.6L2035.7,1441.5L2035.7,1532.3L2035.8,1533.4ZM2036,1436.5L2036.2,1435.4L2036.2,1526.2L2036,1527.3ZM2336.4,1435.4L2336.6,1436.4L2336.6,1527.2L2336.4,1526.2Z" style="fill:#3a3637"/>
<path class="k" d="M2336.5,1446.8L2336.5,1534.1M2336.7,1443.6L2336.6,1440.7L2336.3,1442.2L2336.2,1446.3M2334.7,1452.8L2334.7,1540.1M2335.2,1449.6L2335,1446.7L2334.3,1448.3L2334,1452.4M2331.5,1458.7L2331.5,1546M2332.2,1455.6L2331.8,1452.7L2330.8,1454.2L2330.4,1458.3M2326.7,1464.5L2326.7,1551.8M2327.8,1461.4L2327.3,1458.4L2325.8,1459.9L2325.3,1464M2320.6,1470.1L2320.6,1557.4M2322,1467L2321.3,1464L2319.5,1465.4L2318.8,1469.5M2313.2,1475.3L2313.2,1562.6M2314.8,1472.3L2314,1469.3L2311.9,1470.7L2311,1474.7M2304.5,1480.3L2304.5,1567.6M2306.3,1477.3L2305.4,1474.3L2303,1475.5L2302,1479.5M2294.6,1484.9L2294.6,1572.2M2296.7,1482L2295.6,1478.9L2292.9,1480.1L2291.9,1484M2283.6,1489L2283.6,1576.3M2285.9,1486.2L2284.8,1483.1L2281.8,1484.1L2280.6,1488M2271.7,1492.7L2271.7,1580M2274.2,1490L2272.9,1486.9L2269.7,1487.8L2268.5,1491.6M2259,1495.9L2259,1583.2M2261.6,1493.3L2260.2,1490.1L2256.8,1490.9L2255.5,1494.7M2245.5,1498.6L2245.5,1585.9M2248.2,1496.1L2246.8,1492.8L2243.2,1493.5L2241.8,1497.2M2231.4,1500.7L2231.4,1588M2234.2,1498.3L2232.8,1495L2229.1,1495.5L2227.6,1499.2M2216.8,1502.2L2216.8,1589.5M2219.8,1500L2218.3,1496.6L2214.5,1496.9L2213,1500.5M2202,1503.2L2202,1590.5M2205,1501L2203.5,1497.6L2199.6,1497.7L2198.1,1501.3M2187,1503.5L2187,1590.8M2190,1501.5L2188.5,1498L2184.6,1498L2183.1,1501.5M2172,1503.2L2172,1590.5M2175,1501.3L2173.5,1497.8L2169.6,1497.6L2168.1,1501M2157.2,1502.3L2157.2,1589.6M2160.1,1500.6L2158.6,1496.9L2154.8,1496.6L2153.3,1500M2142.6,1500.9L2142.6,1588.2M2145.5,1499.2L2144,1495.5L2140.3,1495.1L2138.9,1498.4M2128.5,1498.8L2128.5,1586.1M2131.2,1497.3L2129.8,1493.5L2126.3,1492.9L2124.9,1496.2M2114.9,1496.2L2114.9,1583.5M2117.6,1494.8L2116.2,1491L2112.8,1490.2L2111.5,1493.4M2102.1,1493.1L2102.1,1580.4M2104.6,1491.7L2103.3,1487.9L2100.1,1487L2098.8,1490.2M2090,1489.4L2090,1576.7M2092.4,1488.2L2091.2,1484.3L2088.2,1483.3L2087.1,1486.4M2079,1485.3L2079,1572.6M2081.1,1484.2L2080.1,1480.2L2077.3,1479.1L2076.3,1482.2M2069,1480.8L2069,1568.1M2070.9,1479.7L2070,1475.7L2067.5,1474.5L2066.6,1477.5M2060.2,1475.8L2060.2,1563.1M2061.8,1474.8L2061,1470.8L2058.9,1469.5L2058.1,1472.5M2052.6,1470.6L2052.6,1557.9M2054,1469.7L2053.3,1465.6L2051.6,1464.2L2050.9,1467.2M2046.4,1465.1L2046.4,1552.4M2047.5,1464.2L2047,1460.1L2045.5,1458.6L2045,1461.6M2041.5,1459.3L2041.5,1546.6M2042.4,1458.5L2042,1454.4L2040.9,1452.9L2040.5,1455.8M2038.1,1453.4L2038.1,1540.7M2038.7,1452.6L2038.4,1448.5L2037.7,1446.9L2037.5,1449.8M2036.2,1447.3L2036.2,1534.6M2036.4,1446.6L2036.3,1442.4L2036,1440.9L2035.9,1443.8M2035.7,1441.3L2035.7,1528.6M2035.7,1440.5L2035.7,1436.4L2035.8,1434.8L2035.9,1437.7M2336.8,1440.7L2336.8,1528M2336.7,1437.5L2336.8,1434.6L2336.9,1436.2L2336.9,1440.3"/>
<path class="m" d="M2336.9,1531.6A150.6,61 0 0 1 2035.7,1531.6"/>
<path class="m wf" d="M2336.9,1435.5A150.6,61 0 1 1 2035.7,1435.5A150.6,61 0 1 1 2336.9,1435.5Z"/>
<path class="b" d="M2036.9,1427A150.9,61.1 0 0 1 2335.7,1427" stroke-dasharray="2.2 2.4"/>
<path class="k" d="M2327.8,1435.5A141.5,57.3 0 1 1 2044.8,1435.5A141.5,57.3 0 1 1 2327.8,1435.5Z"/>
<path class="m wf" d="M2318.9,1435.5A132.6,53.7 0 1 1 2053.7,1435.5A132.6,53.7 0 1 1 2318.9,1435.5Z"/>
<path class="m" d="M2078.2,1465.4A132.6,53.7 0 0 1 2294.4,1465.4"/>
<path class="m wf" d="M2380,1582.8V1586A21.7,9 0 0 0 2423.4,1586V1582.8A21.7,9 0 0 0 2380,1582.8Z"/>
<ellipse class="m wf" cx="2401.7" cy="1582.8" rx="21.7" ry="9"/>
<ellipse class="m wf" cx="2401.7" cy="1582.2" rx="15.6" ry="6.3"/>
<path class="m wf" d="M2383.7,1562.8V1580.8L2400.7,1585.3L2419.7,1580.8V1562.8A18,7.6 0 0 0 2383.7,1562.8Z"/>
<ellipse class="m wf" cx="2401.7" cy="1562.8" rx="17.2" ry="7"/>
<path class="k" d="M2383.7,1567.8L2400.7,1573.3L2419.7,1567.8M2400.7,1573.3V1585.3"/>
<path class="m wf" d="M1949.2,1582.8V1586A21.7,9 0 0 0 1992.6,1586V1582.8A21.7,9 0 0 0 1949.2,1582.8Z"/>
<ellipse class="m wf" cx="1970.9" cy="1582.8" rx="21.7" ry="9"/>
<ellipse class="m wf" cx="1970.9" cy="1582.2" rx="15.6" ry="6.3"/>
<path class="m wf" d="M1952.9,1562.8V1580.8L1969.9,1585.3L1988.9,1580.8V1562.8A18,7.6 0 0 0 1952.9,1562.8Z"/>
<ellipse class="m wf" cx="1970.9" cy="1562.8" rx="17.2" ry="7"/>
<path class="k" d="M1952.9,1567.8L1969.9,1573.3L1988.9,1567.8M1969.9,1573.3V1585.3"/>
<path class="m wf" d="M1978.1,1627.5V1630.7A21.7,9 0 0 0 2021.5,1630.7V1627.5A21.7,9 0 0 0 1978.1,1627.5Z"/>
<ellipse class="m wf" cx="1999.8" cy="1627.5" rx="21.7" ry="9"/>
<ellipse class="m wf" cx="1999.8" cy="1626.9" rx="15.6" ry="6.3"/>
<path class="m wf" d="M1981.8,1607.5V1625.5L1998.8,1630L2017.8,1625.5V1607.5A18,7.6 0 0 0 1981.8,1607.5Z"/>
<ellipse class="m wf" cx="1999.8" cy="1607.5" rx="17.2" ry="7"/>
<path class="k" d="M1981.8,1612.5L1998.8,1618L2017.8,1612.5M1998.8,1618V1630"/>
<path class="m wf" d="M2351.1,1627.5V1630.7A21.7,9 0 0 0 2394.5,1630.7V1627.5A21.7,9 0 0 0 2351.1,1627.5Z"/>
<ellipse class="m wf" cx="2372.8" cy="1627.5" rx="21.7" ry="9"/>
<ellipse class="m wf" cx="2372.8" cy="1626.9" rx="15.6" ry="6.3"/>
<path class="m wf" d="M2354.8,1607.5V1625.5L2371.8,1630L2390.8,1625.5V1607.5A18,7.6 0 0 0 2354.8,1607.5Z"/>
<ellipse class="m wf" cx="2372.8" cy="1607.5" rx="17.2" ry="7"/>
<path class="k" d="M2354.8,1612.5L2371.8,1618L2390.8,1612.5M2371.8,1618V1630"/>
<path class="m wf" d="M2272.3,1660.2V1663.4A21.7,9 0 0 0 2315.7,1663.4V1660.2A21.7,9 0 0 0 2272.3,1660.2Z"/>
<ellipse class="m wf" cx="2294" cy="1660.2" rx="21.7" ry="9"/>
<ellipse class="m wf" cx="2294" cy="1659.6" rx="15.6" ry="6.3"/>
<path class="m wf" d="M2276,1640.2V1658.2L2293,1662.7L2312,1658.2V1640.2A18,7.6 0 0 0 2276,1640.2Z"/>
<ellipse class="m wf" cx="2294" cy="1640.2" rx="17.2" ry="7"/>
<path class="k" d="M2276,1645.2L2293,1650.7L2312,1645.2M2293,1650.7V1662.7"/>
<path class="m wf" d="M2056.9,1660.2V1663.4A21.7,9 0 0 0 2100.3,1663.4V1660.2A21.7,9 0 0 0 2056.9,1660.2Z"/>
<ellipse class="m wf" cx="2078.6" cy="1660.2" rx="21.7" ry="9"/>
<ellipse class="m wf" cx="2078.6" cy="1659.6" rx="15.6" ry="6.3"/>
<path class="m wf" d="M2060.6,1640.2V1658.2L2077.6,1662.7L2096.6,1658.2V1640.2A18,7.6 0 0 0 2060.6,1640.2Z"/>
<ellipse class="m wf" cx="2078.6" cy="1640.2" rx="17.2" ry="7"/>
<path class="k" d="M2060.6,1645.2L2077.6,1650.7L2096.6,1645.2M2077.6,1650.7V1662.7"/>
<path class="m wf" d="M2164.6,1672.2V1675.4A21.7,9 0 0 0 2208,1675.4V1672.2A21.7,9 0 0 0 2164.6,1672.2Z"/>
<ellipse class="m wf" cx="2186.3" cy="1672.2" rx="21.7" ry="9"/>
<ellipse class="m wf" cx="2186.3" cy="1671.6" rx="15.6" ry="6.3"/>
<path class="m wf" d="M2168.3,1652.2V1670.2L2185.3,1674.7L2204.3,1670.2V1652.2A18,7.6 0 0 0 2168.3,1652.2Z"/>
<ellipse class="m wf" cx="2186.3" cy="1652.2" rx="17.2" ry="7"/>
<path class="k" d="M2168.3,1657.2L2185.3,1662.7L2204.3,1657.2M2185.3,1662.7V1674.7"/>
</g>
<clipPath id="cl5"><rect x="1700" y="1230" width="486.3" height="720"/></clipPath>
<clipPath id="cr5"><rect x="2186.3" y="1230" width="600" height="720"/></clipPath>
</defs>
<g clip-path="url(#cl5)"><use href="#asm5"/></g>
<g clip-path="url(#cr5)" opacity=".3"><use href="#asm5"/></g>
<clipPath id="cpr"><rect x="2337.4" y="1480" width="80" height="71.9"/></clipPath>
<g clip-path="url(#cpr)"><path d="M2315.5,1506.4A168.7,70 0 0 1 2355,1551.4L2342.3,1551.4A156,64.7 0 0 0 2305.8,1509.8Z" fill="#b862a8" stroke="#93478a" stroke-width="1"/>
<path d="M2312.3,1507.5A164.5,68.3 0 0 1 2350.8,1551.4M2309.3,1508.6A160.5,66.6 0 0 1 2346.8,1551.4" fill="none" stroke="#dcb0d5" stroke-width="1"/></g>
<path d="M2355,1551.4A168.7,70 0 0 1 2186.3,1621.4V1616.1A156,64.7 0 0 0 2342.3,1551.4Z" fill="#b862a8" stroke="#93478a" stroke-width="1"/>
<path d="M2350.8,1551.4A164.5,68.3 0 0 1 2186.3,1619.7" fill="none" stroke="#dcb0d5" stroke-width="1"/>
<path d="M2346.8,1551.4A160.5,66.6 0 0 1 2186.3,1618" fill="none" stroke="#dcb0d5" stroke-width="1"/>
<path d="M2186.3,1455.8A170.6,69.1 0 0 1 2015.7,1386.7V1372.4A170.6,69.1 0 0 1 2186.3,1303.3V1323.4A153.8,62.3 0 0 0 2032.5,1385.7A153.8,62.3 0 0 0 2186.3,1448Z" fill="#b0459a" stroke="#4a1a40" stroke-width="1.8" stroke-linejoin="round"/>
<path d="M2165.8,1442.7A168.6,68.3 0 0 1 2186.3,1306.6" fill="none" stroke="#4a1a40" stroke-width="1.35"/>
<path d="M2180.6,1444.6A163.6,66.3 0 0 1 2186.3,1312.1" fill="none" stroke="#4a1a40" stroke-width="1.35"/>
<path d="M2186.3,1448.4A157.3,63.7 0 0 1 2038.5,1362.9" fill="none" stroke="#4a1a40" stroke-width="1.35"/>
<path class="k" d="M2186.6,1294V1894" stroke-dasharray="30 6 7 6"/>
<path fill="#e8212b" d="M2105.7,1246.5h7.8v18.3h6.1l-10,16.6l-10,-16.6h6.1z"/>
<path class="r" d="M1992.6,1323.3L2022.3,1353"/>
<path fill="#e8212b" d="M2029.5,1360.2L2013.2,1352.4L2021.3,1352L2021.7,1343.9Z"/>
<path class="r" d="M2459.2,1677L2356.6,1572.3"/>
<path fill="#e8212b" d="M2349.5,1565L2365.7,1572.9L2357.6,1573.3L2357.1,1581.3Z"/>
</svg>
<div class="t sans lb" style="left:1845px;top:1301.5px">浮动油封(安装前)</div>
<div class="t sans lb" style="left:2462px;top:1681.5px">浮动密封(安装后)</div>
</body>
</html>
